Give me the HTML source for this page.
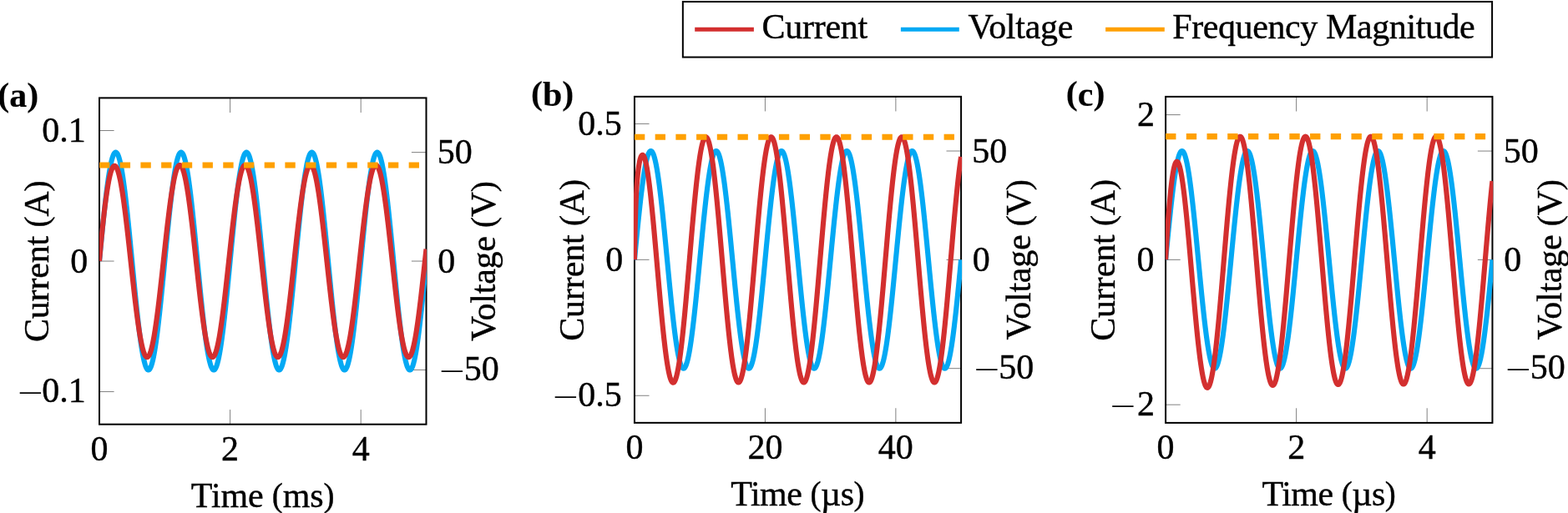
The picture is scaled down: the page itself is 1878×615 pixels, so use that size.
<!DOCTYPE html><html><head><meta charset="utf-8"><style>html,body{margin:0;padding:0;background:#fff;overflow:hidden;}svg{display:block;}text{font-family:"Liberation Serif","Times New Roman",serif;font-size:42px;fill:#000;stroke:#000;stroke-width:0.4px;}</style></head><body>
<svg width="1878" height="615" viewBox="0 0 1878 615">
<rect width="1878" height="615" fill="#fff"/>
<defs>
<clipPath id="clipa"><rect x="119" y="116.4" width="392" height="393.3"/></clipPath>
<clipPath id="clipb"><rect x="758.95" y="114.85" width="393.15" height="393"/></clipPath>
<clipPath id="clipc"><rect x="1395.9" y="114.9" width="392.3" height="393"/></clipPath>
</defs>
<path d="M119 156.53H136.6M119 313.05H136.6M119 469.57H136.6M510.5 182.62H492.9M510.5 313.05H492.9M510.5 443.48H492.9M119 508.7V491.1M119 117.4V135M275.6 508.7V491.1M275.6 117.4V135M432.2 508.7V491.1M432.2 117.4V135" stroke="#000" stroke-width="0.5" fill="none"/>
<rect x="119" y="117.4" width="391.5" height="391.3" fill="none" stroke="#000" stroke-width="2"/>
<g clip-path="url(#clipa)" fill="none" stroke-linejoin="round">
<path d="M119 313.05L119.26 310.32L119.52 307.59L119.78 304.86L120.04 302.14L120.31 299.42L120.57 296.7L120.83 294L121.09 291.3L121.35 288.61L121.61 285.93L121.87 283.27L122.13 280.61L122.39 277.97L122.65 275.35L122.92 272.74L123.18 270.15L123.44 267.58L123.7 265.03L123.96 262.51L124.22 260L124.48 257.51L124.74 255.05L125 252.62L125.26 250.21L125.53 247.83L125.79 245.48L126.05 243.16L126.31 240.87L126.57 238.61L126.83 236.38L127.09 234.19L127.35 232.03L127.61 229.91L127.87 227.82L128.13 225.77L128.4 223.76L128.66 221.79L128.92 219.86L129.18 217.97L129.44 216.12L129.7 214.31L129.96 212.55L130.22 210.83L130.48 209.16L130.75 207.53L131.01 205.94L131.27 204.41L131.53 202.92L131.79 201.48L132.05 200.09L132.31 198.75L132.57 197.46L132.83 196.22L133.09 195.03L133.35 193.89L133.62 192.81L133.88 191.78L134.14 190.8L134.4 189.87L134.66 189L134.92 188.18L135.18 187.42L135.44 186.71L135.7 186.06L135.97 185.47L136.23 184.93L136.49 184.44L136.75 184.02L137.01 183.65L137.27 183.33L137.53 183.07L137.79 182.87L138.05 182.73L138.31 182.65L138.57 182.62L138.84 182.65L139.1 182.73L139.36 182.87L139.62 183.07L139.88 183.33L140.14 183.65L140.4 184.02L140.66 184.44L140.92 184.93L141.19 185.47L141.45 186.06L141.71 186.71L141.97 187.42L142.23 188.18L142.49 189L142.75 189.87L143.01 190.8L143.27 191.78L143.53 192.81L143.8 193.89L144.06 195.03L144.32 196.22L144.58 197.46L144.84 198.75L145.1 200.09L145.36 201.48L145.62 202.92L145.88 204.41L146.14 205.94L146.41 207.53L146.67 209.16L146.93 210.83L147.19 212.55L147.45 214.31L147.71 216.12L147.97 217.97L148.23 219.86L148.49 221.79L148.75 223.76L149.01 225.77L149.28 227.82L149.54 229.91L149.8 232.03L150.06 234.19L150.32 236.38L150.58 238.61L150.84 240.87L151.1 243.16L151.36 245.48L151.62 247.83L151.89 250.21L152.15 252.62L152.41 255.05L152.67 257.51L152.93 260L153.19 262.51L153.45 265.03L153.71 267.58L153.97 270.15L154.24 272.74L154.5 275.35L154.76 277.97L155.02 280.61L155.28 283.27L155.54 285.93L155.8 288.61L156.06 291.3L156.32 294L156.58 296.7L156.84 299.42L157.11 302.14L157.37 304.86L157.63 307.59L157.89 310.32L158.15 313.05L158.41 315.78L158.67 318.51L158.93 321.24L159.19 323.96L159.46 326.68L159.72 329.4L159.98 332.1L160.24 334.8L160.5 337.49L160.76 340.17L161.02 342.83L161.28 345.49L161.54 348.13L161.8 350.75L162.06 353.36L162.33 355.95L162.59 358.52L162.85 361.07L163.11 363.59L163.37 366.1L163.63 368.59L163.89 371.05L164.15 373.48L164.41 375.89L164.68 378.27L164.94 380.62L165.2 382.94L165.46 385.23L165.72 387.49L165.98 389.72L166.24 391.91L166.5 394.07L166.76 396.19L167.02 398.28L167.28 400.33L167.55 402.34L167.81 404.31L168.07 406.24L168.33 408.13L168.59 409.98L168.85 411.79L169.11 413.55L169.37 415.27L169.63 416.94L169.9 418.57L170.16 420.16L170.42 421.69L170.68 423.18L170.94 424.62L171.2 426.01L171.46 427.35L171.72 428.64L171.98 429.88L172.24 431.07L172.5 432.21L172.77 433.29L173.03 434.32L173.29 435.3L173.55 436.23L173.81 437.1L174.07 437.92L174.33 438.68L174.59 439.39L174.85 440.04L175.12 440.63L175.38 441.17L175.64 441.66L175.9 442.08L176.16 442.45L176.42 442.77L176.68 443.03L176.94 443.23L177.2 443.37L177.46 443.45L177.72 443.48L177.99 443.45L178.25 443.37L178.51 443.23L178.77 443.03L179.03 442.77L179.29 442.45L179.55 442.08L179.81 441.66L180.07 441.17L180.34 440.63L180.6 440.04L180.86 439.39L181.12 438.68L181.38 437.92L181.64 437.1L181.9 436.23L182.16 435.3L182.42 434.32L182.68 433.29L182.94 432.21L183.21 431.07L183.47 429.88L183.73 428.64L183.99 427.35L184.25 426.01L184.51 424.62L184.77 423.18L185.03 421.69L185.29 420.16L185.56 418.57L185.82 416.94L186.08 415.27L186.34 413.55L186.6 411.79L186.86 409.98L187.12 408.13L187.38 406.24L187.64 404.31L187.9 402.34L188.17 400.33L188.43 398.28L188.69 396.19L188.95 394.07L189.21 391.91L189.47 389.72L189.73 387.49L189.99 385.23L190.25 382.94L190.51 380.62L190.78 378.27L191.04 375.89L191.3 373.48L191.56 371.05L191.82 368.59L192.08 366.1L192.34 363.59L192.6 361.07L192.86 358.52L193.12 355.95L193.38 353.36L193.65 350.75L193.91 348.13L194.17 345.49L194.43 342.83L194.69 340.17L194.95 337.49L195.21 334.8L195.47 332.1L195.73 329.4L196 326.68L196.26 323.96L196.52 321.24L196.78 318.51L197.04 315.78L197.3 313.05L197.56 310.32L197.82 307.59L198.08 304.86L198.34 302.14L198.61 299.42L198.87 296.7L199.13 294L199.39 291.3L199.65 288.61L199.91 285.93L200.17 283.27L200.43 280.61L200.69 277.97L200.95 275.35L201.22 272.74L201.48 270.15L201.74 267.58L202 265.03L202.26 262.51L202.52 260L202.78 257.51L203.04 255.05L203.3 252.62L203.56 250.21L203.82 247.83L204.09 245.48L204.35 243.16L204.61 240.87L204.87 238.61L205.13 236.38L205.39 234.19L205.65 232.03L205.91 229.91L206.17 227.82L206.44 225.77L206.7 223.76L206.96 221.79L207.22 219.86L207.48 217.97L207.74 216.12L208 214.31L208.26 212.55L208.52 210.83L208.78 209.16L209.05 207.53L209.31 205.94L209.57 204.41L209.83 202.92L210.09 201.48L210.35 200.09L210.61 198.75L210.87 197.46L211.13 196.22L211.39 195.03L211.66 193.89L211.92 192.81L212.18 191.78L212.44 190.8L212.7 189.87L212.96 189L213.22 188.18L213.48 187.42L213.74 186.71L214 186.06L214.26 185.47L214.53 184.93L214.79 184.44L215.05 184.02L215.31 183.65L215.57 183.33L215.83 183.07L216.09 182.87L216.35 182.73L216.61 182.65L216.88 182.62L217.14 182.65L217.4 182.73L217.66 182.87L217.92 183.07L218.18 183.33L218.44 183.65L218.7 184.02L218.96 184.44L219.22 184.93L219.49 185.47L219.75 186.06L220.01 186.71L220.27 187.42L220.53 188.18L220.79 189L221.05 189.87L221.31 190.8L221.57 191.78L221.83 192.81L222.09 193.89L222.36 195.03L222.62 196.22L222.88 197.46L223.14 198.75L223.4 200.09L223.66 201.48L223.92 202.92L224.18 204.41L224.44 205.94L224.7 207.53L224.97 209.16L225.23 210.83L225.49 212.55L225.75 214.31L226.01 216.12L226.27 217.97L226.53 219.86L226.79 221.79L227.05 223.76L227.31 225.77L227.58 227.82L227.84 229.91L228.1 232.03L228.36 234.19L228.62 236.38L228.88 238.61L229.14 240.87L229.4 243.16L229.66 245.48L229.93 247.83L230.19 250.21L230.45 252.62L230.71 255.05L230.97 257.51L231.23 260L231.49 262.51L231.75 265.03L232.01 267.58L232.27 270.15L232.54 272.74L232.8 275.35L233.06 277.97L233.32 280.61L233.58 283.27L233.84 285.93L234.1 288.61L234.36 291.3L234.62 294L234.88 296.7L235.14 299.42L235.41 302.14L235.67 304.86L235.93 307.59L236.19 310.32L236.45 313.05L236.71 315.78L236.97 318.51L237.23 321.24L237.49 323.96L237.75 326.68L238.02 329.4L238.28 332.1L238.54 334.8L238.8 337.49L239.06 340.17L239.32 342.83L239.58 345.49L239.84 348.13L240.1 350.75L240.37 353.36L240.63 355.95L240.89 358.52L241.15 361.07L241.41 363.59L241.67 366.1L241.93 368.59L242.19 371.05L242.45 373.48L242.71 375.89L242.98 378.27L243.24 380.62L243.5 382.94L243.76 385.23L244.02 387.49L244.28 389.72L244.54 391.91L244.8 394.07L245.06 396.19L245.32 398.28L245.58 400.33L245.85 402.34L246.11 404.31L246.37 406.24L246.63 408.13L246.89 409.98L247.15 411.79L247.41 413.55L247.67 415.27L247.93 416.94L248.19 418.57L248.46 420.16L248.72 421.69L248.98 423.18L249.24 424.62L249.5 426.01L249.76 427.35L250.02 428.64L250.28 429.88L250.54 431.07L250.81 432.21L251.07 433.29L251.33 434.32L251.59 435.3L251.85 436.23L252.11 437.1L252.37 437.92L252.63 438.68L252.89 439.39L253.15 440.04L253.41 440.63L253.68 441.17L253.94 441.66L254.2 442.08L254.46 442.45L254.72 442.77L254.98 443.03L255.24 443.23L255.5 443.37L255.76 443.45L256.02 443.48L256.29 443.45L256.55 443.37L256.81 443.23L257.07 443.03L257.33 442.77L257.59 442.45L257.85 442.08L258.11 441.66L258.37 441.17L258.63 440.63L258.9 440.04L259.16 439.39L259.42 438.68L259.68 437.92L259.94 437.1L260.2 436.23L260.46 435.3L260.72 434.32L260.98 433.29L261.25 432.21L261.51 431.07L261.77 429.88L262.03 428.64L262.29 427.35L262.55 426.01L262.81 424.62L263.07 423.18L263.33 421.69L263.59 420.16L263.86 418.57L264.12 416.94L264.38 415.27L264.64 413.55L264.9 411.79L265.16 409.98L265.42 408.13L265.68 406.24L265.94 404.31L266.2 402.34L266.47 400.33L266.73 398.28L266.99 396.19L267.25 394.07L267.51 391.91L267.77 389.72L268.03 387.49L268.29 385.23L268.55 382.94L268.81 380.62L269.07 378.27L269.34 375.89L269.6 373.48L269.86 371.05L270.12 368.59L270.38 366.1L270.64 363.59L270.9 361.07L271.16 358.52L271.42 355.95L271.69 353.36L271.95 350.75L272.21 348.13L272.47 345.49L272.73 342.83L272.99 340.17L273.25 337.49L273.51 334.8L273.77 332.1L274.03 329.4L274.29 326.68L274.56 323.96L274.82 321.24L275.08 318.51L275.34 315.78L275.6 313.05L275.86 310.32L276.12 307.59L276.38 304.86L276.64 302.14L276.9 299.42L277.17 296.7L277.43 294L277.69 291.3L277.95 288.61L278.21 285.93L278.47 283.27L278.73 280.61L278.99 277.97L279.25 275.35L279.51 272.74L279.78 270.15L280.04 267.58L280.3 265.03L280.56 262.51L280.82 260L281.08 257.51L281.34 255.05L281.6 252.62L281.86 250.21L282.12 247.83L282.39 245.48L282.65 243.16L282.91 240.87L283.17 238.61L283.43 236.38L283.69 234.19L283.95 232.03L284.21 229.91L284.47 227.82L284.74 225.77L285 223.76L285.26 221.79L285.52 219.86L285.78 217.97L286.04 216.12L286.3 214.31L286.56 212.55L286.82 210.83L287.08 209.16L287.35 207.53L287.61 205.94L287.87 204.41L288.13 202.92L288.39 201.48L288.65 200.09L288.91 198.75L289.17 197.46L289.43 196.22L289.69 195.03L289.96 193.89L290.22 192.81L290.48 191.78L290.74 190.8L291 189.87L291.26 189L291.52 188.18L291.78 187.42L292.04 186.71L292.3 186.06L292.56 185.47L292.83 184.93L293.09 184.44L293.35 184.02L293.61 183.65L293.87 183.33L294.13 183.07L294.39 182.87L294.65 182.73L294.91 182.65L295.17 182.62L295.44 182.65L295.7 182.73L295.96 182.87L296.22 183.07L296.48 183.33L296.74 183.65L297 184.02L297.26 184.44L297.52 184.93L297.79 185.47L298.05 186.06L298.31 186.71L298.57 187.42L298.83 188.18L299.09 189L299.35 189.87L299.61 190.8L299.87 191.78L300.13 192.81L300.39 193.89L300.66 195.03L300.92 196.22L301.18 197.46L301.44 198.75L301.7 200.09L301.96 201.48L302.22 202.92L302.48 204.41L302.74 205.94L303 207.53L303.27 209.16L303.53 210.83L303.79 212.55L304.05 214.31L304.31 216.12L304.57 217.97L304.83 219.86L305.09 221.79L305.35 223.76L305.62 225.77L305.88 227.82L306.14 229.91L306.4 232.03L306.66 234.19L306.92 236.38L307.18 238.61L307.44 240.87L307.7 243.16L307.96 245.48L308.23 247.83L308.49 250.21L308.75 252.62L309.01 255.05L309.27 257.51L309.53 260L309.79 262.51L310.05 265.03L310.31 267.58L310.57 270.15L310.84 272.74L311.1 275.35L311.36 277.97L311.62 280.61L311.88 283.27L312.14 285.93L312.4 288.61L312.66 291.3L312.92 294L313.18 296.7L313.44 299.42L313.71 302.14L313.97 304.86L314.23 307.59L314.49 310.32L314.75 313.05L315.01 315.78L315.27 318.51L315.53 321.24L315.79 323.96L316.05 326.68L316.32 329.4L316.58 332.1L316.84 334.8L317.1 337.49L317.36 340.17L317.62 342.83L317.88 345.49L318.14 348.13L318.4 350.75L318.67 353.36L318.93 355.95L319.19 358.52L319.45 361.07L319.71 363.59L319.97 366.1L320.23 368.59L320.49 371.05L320.75 373.48L321.01 375.89L321.27 378.27L321.54 380.62L321.8 382.94L322.06 385.23L322.32 387.49L322.58 389.72L322.84 391.91L323.1 394.07L323.36 396.19L323.62 398.28L323.88 400.33L324.15 402.34L324.41 404.31L324.67 406.24L324.93 408.13L325.19 409.98L325.45 411.79L325.71 413.55L325.97 415.27L326.23 416.94L326.5 418.57L326.76 420.16L327.02 421.69L327.28 423.18L327.54 424.62L327.8 426.01L328.06 427.35L328.32 428.64L328.58 429.88L328.84 431.07L329.11 432.21L329.37 433.29L329.63 434.32L329.89 435.3L330.15 436.23L330.41 437.1L330.67 437.92L330.93 438.68L331.19 439.39L331.45 440.04L331.72 440.63L331.98 441.17L332.24 441.66L332.5 442.08L332.76 442.45L333.02 442.77L333.28 443.03L333.54 443.23L333.8 443.37L334.06 443.45L334.32 443.48L334.59 443.45L334.85 443.37L335.11 443.23L335.37 443.03L335.63 442.77L335.89 442.45L336.15 442.08L336.41 441.66L336.67 441.17L336.94 440.63L337.2 440.04L337.46 439.39L337.72 438.68L337.98 437.92L338.24 437.1L338.5 436.23L338.76 435.3L339.02 434.32L339.28 433.29L339.55 432.21L339.81 431.07L340.07 429.88L340.33 428.64L340.59 427.35L340.85 426.01L341.11 424.62L341.37 423.18L341.63 421.69L341.89 420.16L342.15 418.57L342.42 416.94L342.68 415.27L342.94 413.55L343.2 411.79L343.46 409.98L343.72 408.13L343.98 406.24L344.24 404.31L344.5 402.34L344.76 400.33L345.03 398.28L345.29 396.19L345.55 394.07L345.81 391.91L346.07 389.72L346.33 387.49L346.59 385.23L346.85 382.94L347.11 380.62L347.38 378.27L347.64 375.89L347.9 373.48L348.16 371.05L348.42 368.59L348.68 366.1L348.94 363.59L349.2 361.07L349.46 358.52L349.72 355.95L349.99 353.36L350.25 350.75L350.51 348.13L350.77 345.49L351.03 342.83L351.29 340.17L351.55 337.49L351.81 334.8L352.07 332.1L352.33 329.4L352.6 326.68L352.86 323.96L353.12 321.24L353.38 318.51L353.64 315.78L353.9 313.05L354.16 310.32L354.42 307.59L354.68 304.86L354.94 302.14L355.21 299.42L355.47 296.7L355.73 294L355.99 291.3L356.25 288.61L356.51 285.93L356.77 283.27L357.03 280.61L357.29 277.97L357.55 275.35L357.82 272.74L358.08 270.15L358.34 267.58L358.6 265.03L358.86 262.51L359.12 260L359.38 257.51L359.64 255.05L359.9 252.62L360.16 250.21L360.43 247.83L360.69 245.48L360.95 243.16L361.21 240.87L361.47 238.61L361.73 236.38L361.99 234.19L362.25 232.03L362.51 229.91L362.77 227.82L363.03 225.77L363.3 223.76L363.56 221.79L363.82 219.86L364.08 217.97L364.34 216.12L364.6 214.31L364.86 212.55L365.12 210.83L365.38 209.16L365.64 207.53L365.91 205.94L366.17 204.41L366.43 202.92L366.69 201.48L366.95 200.09L367.21 198.75L367.47 197.46L367.73 196.22L367.99 195.03L368.25 193.89L368.52 192.81L368.78 191.78L369.04 190.8L369.3 189.87L369.56 189L369.82 188.18L370.08 187.42L370.34 186.71L370.6 186.06L370.87 185.47L371.13 184.93L371.39 184.44L371.65 184.02L371.91 183.65L372.17 183.33L372.43 183.07L372.69 182.87L372.95 182.73L373.21 182.65L373.48 182.62L373.74 182.65L374 182.73L374.26 182.87L374.52 183.07L374.78 183.33L375.04 183.65L375.3 184.02L375.56 184.44L375.82 184.93L376.09 185.47L376.35 186.06L376.61 186.71L376.87 187.42L377.13 188.18L377.39 189L377.65 189.87L377.91 190.8L378.17 191.78L378.43 192.81L378.69 193.89L378.96 195.03L379.22 196.22L379.48 197.46L379.74 198.75L380 200.09L380.26 201.48L380.52 202.92L380.78 204.41L381.04 205.94L381.31 207.53L381.57 209.16L381.83 210.83L382.09 212.55L382.35 214.31L382.61 216.12L382.87 217.97L383.13 219.86L383.39 221.79L383.65 223.76L383.92 225.77L384.18 227.82L384.44 229.91L384.7 232.03L384.96 234.19L385.22 236.38L385.48 238.61L385.74 240.87L386 243.16L386.26 245.48L386.53 247.83L386.79 250.21L387.05 252.62L387.31 255.05L387.57 257.51L387.83 260L388.09 262.51L388.35 265.03L388.61 267.58L388.87 270.15L389.13 272.74L389.4 275.35L389.66 277.97L389.92 280.61L390.18 283.27L390.44 285.93L390.7 288.61L390.96 291.3L391.22 294L391.48 296.7L391.75 299.42L392.01 302.14L392.27 304.86L392.53 307.59L392.79 310.32L393.05 313.05L393.31 315.78L393.57 318.51L393.83 321.24L394.09 323.96L394.36 326.68L394.62 329.4L394.88 332.1L395.14 334.8L395.4 337.49L395.66 340.17L395.92 342.83L396.18 345.49L396.44 348.13L396.7 350.75L396.97 353.36L397.23 355.95L397.49 358.52L397.75 361.07L398.01 363.59L398.27 366.1L398.53 368.59L398.79 371.05L399.05 373.48L399.31 375.89L399.57 378.27L399.84 380.62L400.1 382.94L400.36 385.23L400.62 387.49L400.88 389.72L401.14 391.91L401.4 394.07L401.66 396.19L401.92 398.28L402.19 400.33L402.45 402.34L402.71 404.31L402.97 406.24L403.23 408.13L403.49 409.98L403.75 411.79L404.01 413.55L404.27 415.27L404.53 416.94L404.8 418.57L405.06 420.16L405.32 421.69L405.58 423.18L405.84 424.62L406.1 426.01L406.36 427.35L406.62 428.64L406.88 429.88L407.14 431.07L407.41 432.21L407.67 433.29L407.93 434.32L408.19 435.3L408.45 436.23L408.71 437.1L408.97 437.92L409.23 438.68L409.49 439.39L409.75 440.04L410.01 440.63L410.28 441.17L410.54 441.66L410.8 442.08L411.06 442.45L411.32 442.77L411.58 443.03L411.84 443.23L412.1 443.37L412.36 443.45L412.62 443.48L412.89 443.45L413.15 443.37L413.41 443.23L413.67 443.03L413.93 442.77L414.19 442.45L414.45 442.08L414.71 441.66L414.97 441.17L415.24 440.63L415.5 440.04L415.76 439.39L416.02 438.68L416.28 437.92L416.54 437.1L416.8 436.23L417.06 435.3L417.32 434.32L417.58 433.29L417.85 432.21L418.11 431.07L418.37 429.88L418.63 428.64L418.89 427.35L419.15 426.01L419.41 424.62L419.67 423.18L419.93 421.69L420.19 420.16L420.45 418.57L420.72 416.94L420.98 415.27L421.24 413.55L421.5 411.79L421.76 409.98L422.02 408.13L422.28 406.24L422.54 404.31L422.8 402.34L423.06 400.33L423.33 398.28L423.59 396.19L423.85 394.07L424.11 391.91L424.37 389.72L424.63 387.49L424.89 385.23L425.15 382.94L425.41 380.62L425.68 378.27L425.94 375.89L426.2 373.48L426.46 371.05L426.72 368.59L426.98 366.1L427.24 363.59L427.5 361.07L427.76 358.52L428.02 355.95L428.29 353.36L428.55 350.75L428.81 348.13L429.07 345.49L429.33 342.83L429.59 340.17L429.85 337.49L430.11 334.8L430.37 332.1L430.63 329.4L430.89 326.68L431.16 323.96L431.42 321.24L431.68 318.51L431.94 315.78L432.2 313.05L432.46 310.32L432.72 307.59L432.98 304.86L433.24 302.14L433.5 299.42L433.77 296.7L434.03 294L434.29 291.3L434.55 288.61L434.81 285.93L435.07 283.27L435.33 280.61L435.59 277.97L435.85 275.35L436.11 272.74L436.38 270.15L436.64 267.58L436.9 265.03L437.16 262.51L437.42 260L437.68 257.51L437.94 255.05L438.2 252.62L438.46 250.21L438.73 247.83L438.99 245.48L439.25 243.16L439.51 240.87L439.77 238.61L440.03 236.38L440.29 234.19L440.55 232.03L440.81 229.91L441.07 227.82L441.34 225.77L441.6 223.76L441.86 221.79L442.12 219.86L442.38 217.97L442.64 216.12L442.9 214.31L443.16 212.55L443.42 210.83L443.68 209.16L443.94 207.53L444.21 205.94L444.47 204.41L444.73 202.92L444.99 201.48L445.25 200.09L445.51 198.75L445.77 197.46L446.03 196.22L446.29 195.03L446.56 193.89L446.82 192.81L447.08 191.78L447.34 190.8L447.6 189.87L447.86 189L448.12 188.18L448.38 187.42L448.64 186.71L448.9 186.06L449.17 185.47L449.43 184.93L449.69 184.44L449.95 184.02L450.21 183.65L450.47 183.33L450.73 183.07L450.99 182.87L451.25 182.73L451.51 182.65L451.77 182.62L452.04 182.65L452.3 182.73L452.56 182.87L452.82 183.07L453.08 183.33L453.34 183.65L453.6 184.02L453.86 184.44L454.12 184.93L454.38 185.47L454.65 186.06L454.91 186.71L455.17 187.42L455.43 188.18L455.69 189L455.95 189.87L456.21 190.8L456.47 191.78L456.73 192.81L457 193.89L457.26 195.03L457.52 196.22L457.78 197.46L458.04 198.75L458.3 200.09L458.56 201.48L458.82 202.92L459.08 204.41L459.34 205.94L459.61 207.53L459.87 209.16L460.13 210.83L460.39 212.55L460.65 214.31L460.91 216.12L461.17 217.97L461.43 219.86L461.69 221.79L461.95 223.76L462.22 225.77L462.48 227.82L462.74 229.91L463 232.03L463.26 234.19L463.52 236.38L463.78 238.61L464.04 240.87L464.3 243.16L464.56 245.48L464.82 247.83L465.09 250.21L465.35 252.62L465.61 255.05L465.87 257.51L466.13 260L466.39 262.51L466.65 265.03L466.91 267.58L467.17 270.15L467.44 272.74L467.7 275.35L467.96 277.97L468.22 280.61L468.48 283.27L468.74 285.93L469 288.61L469.26 291.3L469.52 294L469.78 296.7L470.05 299.42L470.31 302.14L470.57 304.86L470.83 307.59L471.09 310.32L471.35 313.05L471.61 315.78L471.87 318.51L472.13 321.24L472.39 323.96L472.65 326.68L472.92 329.4L473.18 332.1L473.44 334.8L473.7 337.49L473.96 340.17L474.22 342.83L474.48 345.49L474.74 348.13L475 350.75L475.27 353.36L475.53 355.95L475.79 358.52L476.05 361.07L476.31 363.59L476.57 366.1L476.83 368.59L477.09 371.05L477.35 373.48L477.61 375.89L477.88 378.27L478.14 380.62L478.4 382.94L478.66 385.23L478.92 387.49L479.18 389.72L479.44 391.91L479.7 394.07L479.96 396.19L480.22 398.28L480.49 400.33L480.75 402.34L481.01 404.31L481.27 406.24L481.53 408.13L481.79 409.98L482.05 411.79L482.31 413.55L482.57 415.27L482.83 416.94L483.1 418.57L483.36 420.16L483.62 421.69L483.88 423.18L484.14 424.62L484.4 426.01L484.66 427.35L484.92 428.64L485.18 429.88L485.44 431.07L485.7 432.21L485.97 433.29L486.23 434.32L486.49 435.3L486.75 436.23L487.01 437.1L487.27 437.92L487.53 438.68L487.79 439.39L488.05 440.04L488.31 440.63L488.58 441.17L488.84 441.66L489.1 442.08L489.36 442.45L489.62 442.77L489.88 443.03L490.14 443.23L490.4 443.37L490.66 443.45L490.93 443.48L491.19 443.45L491.45 443.37L491.71 443.23L491.97 443.03L492.23 442.77L492.49 442.45L492.75 442.08L493.01 441.66L493.27 441.17L493.53 440.63L493.8 440.04L494.06 439.39L494.32 438.68L494.58 437.92L494.84 437.1L495.1 436.23L495.36 435.3L495.62 434.32L495.88 433.29L496.15 432.21L496.41 431.07L496.67 429.88L496.93 428.64L497.19 427.35L497.45 426.01L497.71 424.62L497.97 423.18L498.23 421.69L498.49 420.16L498.76 418.57L499.02 416.94L499.28 415.27L499.54 413.55L499.8 411.79L500.06 409.98L500.32 408.13L500.58 406.24L500.84 404.31L501.1 402.34L501.37 400.33L501.63 398.28L501.89 396.19L502.15 394.07L502.41 391.91L502.67 389.72L502.93 387.49L503.19 385.23L503.45 382.94L503.71 380.62L503.98 378.27L504.24 375.89L504.5 373.48L504.76 371.05L505.02 368.59L505.28 366.1L505.54 363.59L505.8 361.07L506.06 358.52L506.32 355.95L506.58 353.36L506.85 350.75L507.11 348.13L507.37 345.49L507.63 342.83L507.89 340.17L508.15 337.49L508.41 334.8L508.67 332.1L508.93 329.4L509.19 326.68L509.46 323.96L509.72 321.24L509.98 318.51L510.24 315.78L510.5 313.05" stroke="#03A9F4" stroke-width="6.15"/>
<path d="M119 313.05L119.26 310.07L119.52 307.13L119.78 304.22L120.04 301.34L120.31 298.49L120.57 295.67L120.83 292.88L121.09 290.13L121.35 287.41L121.61 284.72L121.87 282.07L122.13 279.45L122.39 276.86L122.65 274.3L122.92 271.79L123.18 269.3L123.44 266.85L123.7 264.44L123.96 262.06L124.22 259.72L124.48 257.42L124.74 255.15L125 252.92L125.26 250.73L125.53 248.58L125.79 246.47L126.05 244.4L126.31 242.37L126.57 240.38L126.83 238.43L127.09 236.52L127.35 234.66L127.61 232.83L127.87 231.05L128.13 229.32L128.4 227.63L128.66 225.98L128.92 224.38L129.18 222.82L129.44 221.31L129.7 219.84L129.96 218.42L130.22 217.05L130.48 215.73L130.75 214.45L131.01 213.22L131.27 212.04L131.53 210.91L131.79 209.83L132.05 208.79L132.31 207.81L132.57 206.87L132.83 205.99L133.09 205.16L133.35 204.38L133.62 203.64L133.88 202.96L134.14 202.33L134.4 201.76L134.66 201.23L134.92 200.75L135.18 200.33L135.44 199.96L135.7 199.64L135.97 199.37L136.23 199.16L136.49 198.99L136.75 198.88L137.01 198.82L137.27 198.81L137.53 198.86L137.79 198.95L138.05 199.1L138.31 199.3L138.57 199.55L138.84 199.85L139.1 200.2L139.36 200.6L139.62 201.06L139.88 201.56L140.14 202.12L140.4 202.72L140.66 203.37L140.92 204.07L141.19 204.82L141.45 205.62L141.71 206.47L141.97 207.37L142.23 208.31L142.49 209.3L142.75 210.33L143.01 211.41L143.27 212.54L143.53 213.71L143.8 214.92L144.06 216.18L144.32 217.48L144.58 218.83L144.84 220.21L145.1 221.64L145.36 223.11L145.62 224.61L145.88 226.16L146.14 227.75L146.41 229.37L146.67 231.03L146.93 232.73L147.19 234.46L147.45 236.23L147.71 238.03L147.97 239.86L148.23 241.73L148.49 243.63L148.75 245.55L149.01 247.51L149.28 249.5L149.54 251.52L149.8 253.56L150.06 255.63L150.32 257.73L150.58 259.84L150.84 261.99L151.1 264.15L151.36 266.34L151.62 268.55L151.89 270.78L152.15 273.02L152.41 275.29L152.67 277.57L152.93 279.86L153.19 282.17L153.45 284.5L153.71 286.84L153.97 289.19L154.24 291.55L154.5 293.91L154.76 296.29L155.02 298.68L155.28 301.07L155.54 303.47L155.8 305.87L156.06 308.27L156.32 310.68L156.58 313.09L156.84 315.49L157.11 317.9L157.37 320.31L157.63 322.71L157.89 325.1L158.15 327.5L158.41 329.88L158.67 332.26L158.93 334.63L159.19 336.99L159.46 339.34L159.72 341.68L159.98 344.01L160.24 346.32L160.5 348.62L160.76 350.9L161.02 353.17L161.28 355.42L161.54 357.65L161.8 359.86L162.06 362.05L162.33 364.22L162.59 366.36L162.85 368.49L163.11 370.58L163.37 372.66L163.63 374.7L163.89 376.72L164.15 378.72L164.41 380.68L164.68 382.61L164.94 384.52L165.2 386.39L165.46 388.23L165.72 390.04L165.98 391.81L166.24 393.55L166.5 395.25L166.76 396.92L167.02 398.55L167.28 400.14L167.55 401.7L167.81 403.21L168.07 404.69L168.33 406.13L168.59 407.52L168.85 408.88L169.11 410.19L169.37 411.46L169.63 412.68L169.9 413.87L170.16 415L170.42 416.1L170.68 417.15L170.94 418.15L171.2 419.11L171.46 420.02L171.72 420.88L171.98 421.7L172.24 422.46L172.5 423.18L172.77 423.86L173.03 424.48L173.29 425.06L173.55 425.58L173.81 426.06L174.07 426.48L174.33 426.86L174.59 427.19L174.85 427.46L175.12 427.69L175.38 427.87L175.64 427.99L175.9 428.07L176.16 428.09L176.42 428.07L176.68 427.99L176.94 427.87L177.2 427.69L177.46 427.46L177.72 427.19L177.99 426.86L178.25 426.48L178.51 426.06L178.77 425.58L179.03 425.05L179.29 424.48L179.55 423.86L179.81 423.18L180.07 422.46L180.34 421.69L180.6 420.88L180.86 420.01L181.12 419.1L181.38 418.15L181.64 417.14L181.9 416.1L182.16 415L182.42 413.86L182.68 412.68L182.94 411.45L183.21 410.18L183.47 408.87L183.73 407.52L183.99 406.12L184.25 404.68L184.51 403.21L184.77 401.69L185.03 400.14L185.29 398.54L185.56 396.91L185.82 395.24L186.08 393.54L186.34 391.8L186.6 390.03L186.86 388.22L187.12 386.38L187.38 384.51L187.64 382.6L187.9 380.67L188.17 378.71L188.43 376.71L188.69 374.69L188.95 372.65L189.21 370.57L189.47 368.47L189.73 366.35L189.99 364.2L190.25 362.03L190.51 359.84L190.78 357.63L191.04 355.4L191.3 353.15L191.56 350.88L191.82 348.6L192.08 346.3L192.34 343.99L192.6 341.66L192.86 339.32L193.12 336.97L193.38 334.61L193.65 332.24L193.91 329.86L194.17 327.47L194.43 325.08L194.69 322.68L194.95 320.27L195.21 317.87L195.47 315.46L195.73 313.05L196 310.64L196.26 308.23L196.52 305.83L196.78 303.42L197.04 301.02L197.3 298.63L197.56 296.24L197.82 293.86L198.08 291.49L198.34 289.13L198.61 286.78L198.87 284.44L199.13 282.11L199.39 279.8L199.65 277.5L199.91 275.22L200.17 272.95L200.43 270.7L200.69 268.47L200.95 266.26L201.22 264.07L201.48 261.9L201.74 259.75L202 257.63L202.26 255.53L202.52 253.46L202.78 251.41L203.04 249.39L203.3 247.39L203.56 245.43L203.82 243.5L204.09 241.59L204.35 239.72L204.61 237.88L204.87 236.07L205.13 234.3L205.39 232.56L205.65 230.86L205.91 229.19L206.17 227.56L206.44 225.96L206.7 224.41L206.96 222.89L207.22 221.42L207.48 219.98L207.74 218.58L208 217.23L208.26 215.92L208.52 214.65L208.78 213.42L209.05 212.24L209.31 211.1L209.57 210.01L209.83 208.96L210.09 207.95L210.35 207L210.61 206.09L210.87 205.22L211.13 204.41L211.39 203.64L211.66 202.92L211.92 202.25L212.18 201.62L212.44 201.05L212.7 200.52L212.96 200.05L213.22 199.62L213.48 199.24L213.74 198.91L214 198.64L214.26 198.41L214.53 198.23L214.79 198.11L215.05 198.03L215.31 198.01L215.57 198.03L215.83 198.11L216.09 198.23L216.35 198.41L216.61 198.64L216.88 198.91L217.14 199.24L217.4 199.62L217.66 200.05L217.92 200.52L218.18 201.05L218.44 201.62L218.7 202.25L218.96 202.92L219.22 203.64L219.49 204.41L219.75 205.22L220.01 206.09L220.27 207L220.53 207.95L220.79 208.96L221.05 210.01L221.31 211.1L221.57 212.24L221.83 213.42L222.09 214.65L222.36 215.92L222.62 217.23L222.88 218.58L223.14 219.98L223.4 221.42L223.66 222.89L223.92 224.41L224.18 225.96L224.44 227.56L224.7 229.19L224.97 230.86L225.23 232.56L225.49 234.3L225.75 236.07L226.01 237.88L226.27 239.72L226.53 241.59L226.79 243.5L227.05 245.43L227.31 247.39L227.58 249.39L227.84 251.41L228.1 253.46L228.36 255.53L228.62 257.63L228.88 259.75L229.14 261.9L229.4 264.07L229.66 266.26L229.93 268.47L230.19 270.7L230.45 272.95L230.71 275.22L230.97 277.5L231.23 279.8L231.49 282.11L231.75 284.44L232.01 286.78L232.27 289.13L232.54 291.49L232.8 293.86L233.06 296.24L233.32 298.63L233.58 301.02L233.84 303.42L234.1 305.83L234.36 308.23L234.62 310.64L234.88 313.05L235.14 315.46L235.41 317.87L235.67 320.27L235.93 322.68L236.19 325.08L236.45 327.47L236.71 329.86L236.97 332.24L237.23 334.61L237.49 336.97L237.75 339.32L238.02 341.66L238.28 343.99L238.54 346.3L238.8 348.6L239.06 350.88L239.32 353.15L239.58 355.4L239.84 357.63L240.1 359.84L240.37 362.03L240.63 364.2L240.89 366.35L241.15 368.47L241.41 370.57L241.67 372.64L241.93 374.69L242.19 376.71L242.45 378.71L242.71 380.67L242.98 382.6L243.24 384.51L243.5 386.38L243.76 388.22L244.02 390.03L244.28 391.8L244.54 393.54L244.8 395.24L245.06 396.91L245.32 398.54L245.58 400.14L245.85 401.69L246.11 403.21L246.37 404.68L246.63 406.12L246.89 407.52L247.15 408.87L247.41 410.18L247.67 411.45L247.93 412.68L248.19 413.86L248.46 415L248.72 416.09L248.98 417.14L249.24 418.15L249.5 419.1L249.76 420.01L250.02 420.88L250.28 421.69L250.54 422.46L250.81 423.18L251.07 423.85L251.33 424.48L251.59 425.05L251.85 425.58L252.11 426.05L252.37 426.48L252.63 426.86L252.89 427.19L253.15 427.46L253.41 427.69L253.68 427.87L253.94 427.99L254.2 428.07L254.46 428.09L254.72 428.07L254.98 427.99L255.24 427.87L255.5 427.69L255.76 427.46L256.02 427.19L256.29 426.86L256.55 426.48L256.81 426.05L257.07 425.58L257.33 425.05L257.59 424.48L257.85 423.85L258.11 423.18L258.37 422.46L258.63 421.69L258.9 420.88L259.16 420.01L259.42 419.1L259.68 418.15L259.94 417.14L260.2 416.09L260.46 415L260.72 413.86L260.98 412.68L261.25 411.45L261.51 410.18L261.77 408.87L262.03 407.52L262.29 406.12L262.55 404.68L262.81 403.21L263.07 401.69L263.33 400.14L263.59 398.54L263.86 396.91L264.12 395.24L264.38 393.54L264.64 391.8L264.9 390.03L265.16 388.22L265.42 386.38L265.68 384.51L265.94 382.6L266.2 380.67L266.47 378.71L266.73 376.71L266.99 374.69L267.25 372.64L267.51 370.57L267.77 368.47L268.03 366.35L268.29 364.2L268.55 362.03L268.81 359.84L269.07 357.63L269.34 355.4L269.6 353.15L269.86 350.88L270.12 348.6L270.38 346.3L270.64 343.99L270.9 341.66L271.16 339.32L271.42 336.97L271.69 334.61L271.95 332.24L272.21 329.86L272.47 327.47L272.73 325.08L272.99 322.68L273.25 320.27L273.51 317.87L273.77 315.46L274.03 313.05L274.29 310.64L274.56 308.23L274.82 305.83L275.08 303.42L275.34 301.02L275.6 298.63L275.86 296.24L276.12 293.86L276.38 291.49L276.64 289.13L276.9 286.78L277.17 284.44L277.43 282.11L277.69 279.8L277.95 277.5L278.21 275.22L278.47 272.95L278.73 270.7L278.99 268.47L279.25 266.26L279.51 264.07L279.78 261.9L280.04 259.75L280.3 257.63L280.56 255.53L280.82 253.46L281.08 251.41L281.34 249.39L281.6 247.39L281.86 245.43L282.12 243.5L282.39 241.59L282.65 239.72L282.91 237.88L283.17 236.07L283.43 234.3L283.69 232.56L283.95 230.86L284.21 229.19L284.47 227.56L284.74 225.96L285 224.41L285.26 222.89L285.52 221.42L285.78 219.98L286.04 218.58L286.3 217.23L286.56 215.92L286.82 214.65L287.08 213.42L287.35 212.24L287.61 211.1L287.87 210.01L288.13 208.96L288.39 207.95L288.65 207L288.91 206.09L289.17 205.22L289.43 204.41L289.69 203.64L289.96 202.92L290.22 202.25L290.48 201.62L290.74 201.05L291 200.52L291.26 200.05L291.52 199.62L291.78 199.24L292.04 198.91L292.3 198.64L292.56 198.41L292.83 198.23L293.09 198.11L293.35 198.03L293.61 198.01L293.87 198.03L294.13 198.11L294.39 198.23L294.65 198.41L294.91 198.64L295.17 198.91L295.44 199.24L295.7 199.62L295.96 200.05L296.22 200.52L296.48 201.05L296.74 201.62L297 202.25L297.26 202.92L297.52 203.64L297.79 204.41L298.05 205.22L298.31 206.09L298.57 207L298.83 207.95L299.09 208.96L299.35 210.01L299.61 211.1L299.87 212.24L300.13 213.42L300.39 214.65L300.66 215.92L300.92 217.23L301.18 218.58L301.44 219.98L301.7 221.42L301.96 222.89L302.22 224.41L302.48 225.96L302.74 227.56L303 229.19L303.27 230.86L303.53 232.56L303.79 234.3L304.05 236.07L304.31 237.88L304.57 239.72L304.83 241.59L305.09 243.5L305.35 245.43L305.62 247.39L305.88 249.39L306.14 251.41L306.4 253.46L306.66 255.53L306.92 257.63L307.18 259.75L307.44 261.9L307.7 264.07L307.96 266.26L308.23 268.47L308.49 270.7L308.75 272.95L309.01 275.22L309.27 277.5L309.53 279.8L309.79 282.11L310.05 284.44L310.31 286.78L310.57 289.13L310.84 291.49L311.1 293.86L311.36 296.24L311.62 298.63L311.88 301.02L312.14 303.42L312.4 305.83L312.66 308.23L312.92 310.64L313.18 313.05L313.44 315.46L313.71 317.87L313.97 320.27L314.23 322.68L314.49 325.08L314.75 327.47L315.01 329.86L315.27 332.24L315.53 334.61L315.79 336.97L316.05 339.32L316.32 341.66L316.58 343.99L316.84 346.3L317.1 348.6L317.36 350.88L317.62 353.15L317.88 355.4L318.14 357.63L318.4 359.84L318.67 362.03L318.93 364.2L319.19 366.35L319.45 368.47L319.71 370.57L319.97 372.64L320.23 374.69L320.49 376.71L320.75 378.71L321.01 380.67L321.27 382.6L321.54 384.51L321.8 386.38L322.06 388.22L322.32 390.03L322.58 391.8L322.84 393.54L323.1 395.24L323.36 396.91L323.62 398.54L323.88 400.14L324.15 401.69L324.41 403.21L324.67 404.68L324.93 406.12L325.19 407.52L325.45 408.87L325.71 410.18L325.97 411.45L326.23 412.68L326.5 413.86L326.76 415L327.02 416.09L327.28 417.14L327.54 418.15L327.8 419.1L328.06 420.01L328.32 420.88L328.58 421.69L328.84 422.46L329.11 423.18L329.37 423.85L329.63 424.48L329.89 425.05L330.15 425.58L330.41 426.05L330.67 426.48L330.93 426.86L331.19 427.19L331.45 427.46L331.72 427.69L331.98 427.87L332.24 427.99L332.5 428.07L332.76 428.09L333.02 428.07L333.28 427.99L333.54 427.87L333.8 427.69L334.06 427.46L334.32 427.19L334.59 426.86L334.85 426.48L335.11 426.05L335.37 425.58L335.63 425.05L335.89 424.48L336.15 423.85L336.41 423.18L336.67 422.46L336.94 421.69L337.2 420.88L337.46 420.01L337.72 419.1L337.98 418.15L338.24 417.14L338.5 416.09L338.76 415L339.02 413.86L339.28 412.68L339.55 411.45L339.81 410.18L340.07 408.87L340.33 407.52L340.59 406.12L340.85 404.68L341.11 403.21L341.37 401.69L341.63 400.14L341.89 398.54L342.15 396.91L342.42 395.24L342.68 393.54L342.94 391.8L343.2 390.03L343.46 388.22L343.72 386.38L343.98 384.51L344.24 382.6L344.5 380.67L344.76 378.71L345.03 376.71L345.29 374.69L345.55 372.64L345.81 370.57L346.07 368.47L346.33 366.35L346.59 364.2L346.85 362.03L347.11 359.84L347.38 357.63L347.64 355.4L347.9 353.15L348.16 350.88L348.42 348.6L348.68 346.3L348.94 343.99L349.2 341.66L349.46 339.32L349.72 336.97L349.99 334.61L350.25 332.24L350.51 329.86L350.77 327.47L351.03 325.08L351.29 322.68L351.55 320.27L351.81 317.87L352.07 315.46L352.33 313.05L352.6 310.64L352.86 308.23L353.12 305.83L353.38 303.42L353.64 301.02L353.9 298.63L354.16 296.24L354.42 293.86L354.68 291.49L354.94 289.13L355.21 286.78L355.47 284.44L355.73 282.11L355.99 279.8L356.25 277.5L356.51 275.22L356.77 272.95L357.03 270.7L357.29 268.47L357.55 266.26L357.82 264.07L358.08 261.9L358.34 259.75L358.6 257.63L358.86 255.53L359.12 253.46L359.38 251.41L359.64 249.39L359.9 247.39L360.16 245.43L360.43 243.5L360.69 241.59L360.95 239.72L361.21 237.88L361.47 236.07L361.73 234.3L361.99 232.56L362.25 230.86L362.51 229.19L362.77 227.56L363.03 225.96L363.3 224.41L363.56 222.89L363.82 221.42L364.08 219.98L364.34 218.58L364.6 217.23L364.86 215.92L365.12 214.65L365.38 213.42L365.64 212.24L365.91 211.1L366.17 210.01L366.43 208.96L366.69 207.95L366.95 207L367.21 206.09L367.47 205.22L367.73 204.41L367.99 203.64L368.25 202.92L368.52 202.25L368.78 201.62L369.04 201.05L369.3 200.52L369.56 200.05L369.82 199.62L370.08 199.24L370.34 198.91L370.6 198.64L370.87 198.41L371.13 198.23L371.39 198.11L371.65 198.03L371.91 198.01L372.17 198.03L372.43 198.11L372.69 198.23L372.95 198.41L373.21 198.64L373.48 198.91L373.74 199.24L374 199.62L374.26 200.05L374.52 200.52L374.78 201.05L375.04 201.62L375.3 202.25L375.56 202.92L375.82 203.64L376.09 204.41L376.35 205.22L376.61 206.09L376.87 207L377.13 207.95L377.39 208.96L377.65 210.01L377.91 211.1L378.17 212.24L378.43 213.42L378.69 214.65L378.96 215.92L379.22 217.23L379.48 218.58L379.74 219.98L380 221.42L380.26 222.89L380.52 224.41L380.78 225.96L381.04 227.56L381.31 229.19L381.57 230.86L381.83 232.56L382.09 234.3L382.35 236.07L382.61 237.88L382.87 239.72L383.13 241.59L383.39 243.5L383.65 245.43L383.92 247.39L384.18 249.39L384.44 251.41L384.7 253.46L384.96 255.53L385.22 257.63L385.48 259.75L385.74 261.9L386 264.07L386.26 266.26L386.53 268.47L386.79 270.7L387.05 272.95L387.31 275.22L387.57 277.5L387.83 279.8L388.09 282.11L388.35 284.44L388.61 286.78L388.87 289.13L389.13 291.49L389.4 293.86L389.66 296.24L389.92 298.63L390.18 301.02L390.44 303.42L390.7 305.83L390.96 308.23L391.22 310.64L391.48 313.05L391.75 315.46L392.01 317.87L392.27 320.27L392.53 322.68L392.79 325.08L393.05 327.47L393.31 329.86L393.57 332.24L393.83 334.61L394.09 336.97L394.36 339.32L394.62 341.66L394.88 343.99L395.14 346.3L395.4 348.6L395.66 350.88L395.92 353.15L396.18 355.4L396.44 357.63L396.7 359.84L396.97 362.03L397.23 364.2L397.49 366.35L397.75 368.47L398.01 370.57L398.27 372.64L398.53 374.69L398.79 376.71L399.05 378.71L399.31 380.67L399.57 382.6L399.84 384.51L400.1 386.38L400.36 388.22L400.62 390.03L400.88 391.8L401.14 393.54L401.4 395.24L401.66 396.91L401.92 398.54L402.19 400.14L402.45 401.69L402.71 403.21L402.97 404.68L403.23 406.12L403.49 407.52L403.75 408.87L404.01 410.18L404.27 411.45L404.53 412.68L404.8 413.86L405.06 415L405.32 416.09L405.58 417.14L405.84 418.15L406.1 419.1L406.36 420.01L406.62 420.88L406.88 421.69L407.14 422.46L407.41 423.18L407.67 423.85L407.93 424.48L408.19 425.05L408.45 425.58L408.71 426.05L408.97 426.48L409.23 426.86L409.49 427.19L409.75 427.46L410.01 427.69L410.28 427.87L410.54 427.99L410.8 428.07L411.06 428.09L411.32 428.07L411.58 427.99L411.84 427.87L412.1 427.69L412.36 427.46L412.62 427.19L412.89 426.86L413.15 426.48L413.41 426.05L413.67 425.58L413.93 425.05L414.19 424.48L414.45 423.85L414.71 423.18L414.97 422.46L415.24 421.69L415.5 420.88L415.76 420.01L416.02 419.1L416.28 418.15L416.54 417.14L416.8 416.09L417.06 415L417.32 413.86L417.58 412.68L417.85 411.45L418.11 410.18L418.37 408.87L418.63 407.52L418.89 406.12L419.15 404.68L419.41 403.21L419.67 401.69L419.93 400.14L420.19 398.54L420.45 396.91L420.72 395.24L420.98 393.54L421.24 391.8L421.5 390.03L421.76 388.22L422.02 386.38L422.28 384.51L422.54 382.6L422.8 380.67L423.06 378.71L423.33 376.71L423.59 374.69L423.85 372.64L424.11 370.57L424.37 368.47L424.63 366.35L424.89 364.2L425.15 362.03L425.41 359.84L425.68 357.63L425.94 355.4L426.2 353.15L426.46 350.88L426.72 348.6L426.98 346.3L427.24 343.99L427.5 341.66L427.76 339.32L428.02 336.97L428.29 334.61L428.55 332.24L428.81 329.86L429.07 327.47L429.33 325.08L429.59 322.68L429.85 320.27L430.11 317.87L430.37 315.46L430.63 313.05L430.89 310.64L431.16 308.23L431.42 305.83L431.68 303.42L431.94 301.02L432.2 298.63L432.46 296.24L432.72 293.86L432.98 291.49L433.24 289.13L433.5 286.78L433.77 284.44L434.03 282.11L434.29 279.8L434.55 277.5L434.81 275.22L435.07 272.95L435.33 270.7L435.59 268.47L435.85 266.26L436.11 264.07L436.38 261.9L436.64 259.75L436.9 257.63L437.16 255.53L437.42 253.46L437.68 251.41L437.94 249.39L438.2 247.39L438.46 245.43L438.73 243.5L438.99 241.59L439.25 239.72L439.51 237.88L439.77 236.07L440.03 234.3L440.29 232.56L440.55 230.86L440.81 229.19L441.07 227.56L441.34 225.96L441.6 224.41L441.86 222.89L442.12 221.42L442.38 219.98L442.64 218.58L442.9 217.23L443.16 215.92L443.42 214.65L443.68 213.42L443.94 212.24L444.21 211.1L444.47 210.01L444.73 208.96L444.99 207.95L445.25 207L445.51 206.09L445.77 205.22L446.03 204.41L446.29 203.64L446.56 202.92L446.82 202.25L447.08 201.62L447.34 201.05L447.6 200.52L447.86 200.05L448.12 199.62L448.38 199.24L448.64 198.91L448.9 198.64L449.17 198.41L449.43 198.23L449.69 198.11L449.95 198.03L450.21 198.01L450.47 198.03L450.73 198.11L450.99 198.23L451.25 198.41L451.51 198.64L451.77 198.91L452.04 199.24L452.3 199.62L452.56 200.05L452.82 200.52L453.08 201.05L453.34 201.62L453.6 202.25L453.86 202.92L454.12 203.64L454.38 204.41L454.65 205.22L454.91 206.09L455.17 207L455.43 207.95L455.69 208.96L455.95 210.01L456.21 211.1L456.47 212.24L456.73 213.42L457 214.65L457.26 215.92L457.52 217.23L457.78 218.58L458.04 219.98L458.3 221.42L458.56 222.89L458.82 224.41L459.08 225.96L459.34 227.56L459.61 229.19L459.87 230.86L460.13 232.56L460.39 234.3L460.65 236.07L460.91 237.88L461.17 239.72L461.43 241.59L461.69 243.5L461.95 245.43L462.22 247.39L462.48 249.39L462.74 251.41L463 253.46L463.26 255.53L463.52 257.63L463.78 259.75L464.04 261.9L464.3 264.07L464.56 266.26L464.82 268.47L465.09 270.7L465.35 272.95L465.61 275.22L465.87 277.5L466.13 279.8L466.39 282.11L466.65 284.44L466.91 286.78L467.17 289.13L467.44 291.49L467.7 293.86L467.96 296.24L468.22 298.63L468.48 301.02L468.74 303.42L469 305.83L469.26 308.23L469.52 310.64L469.78 313.05L470.05 315.46L470.31 317.87L470.57 320.27L470.83 322.68L471.09 325.08L471.35 327.47L471.61 329.86L471.87 332.24L472.13 334.61L472.39 336.97L472.65 339.32L472.92 341.66L473.18 343.99L473.44 346.3L473.7 348.6L473.96 350.88L474.22 353.15L474.48 355.4L474.74 357.63L475 359.84L475.27 362.03L475.53 364.2L475.79 366.35L476.05 368.47L476.31 370.57L476.57 372.64L476.83 374.69L477.09 376.71L477.35 378.71L477.61 380.67L477.88 382.6L478.14 384.51L478.4 386.38L478.66 388.22L478.92 390.03L479.18 391.8L479.44 393.54L479.7 395.24L479.96 396.91L480.22 398.54L480.49 400.14L480.75 401.69L481.01 403.21L481.27 404.68L481.53 406.12L481.79 407.52L482.05 408.87L482.31 410.18L482.57 411.45L482.83 412.68L483.1 413.86L483.36 415L483.62 416.09L483.88 417.14L484.14 418.15L484.4 419.1L484.66 420.01L484.92 420.88L485.18 421.69L485.44 422.46L485.7 423.18L485.97 423.85L486.23 424.48L486.49 425.05L486.75 425.58L487.01 426.05L487.27 426.48L487.53 426.86L487.79 427.19L488.05 427.46L488.31 427.69L488.58 427.87L488.84 427.99L489.1 428.07L489.36 428.09L489.62 428.07L489.88 427.99L490.14 427.87L490.4 427.69L490.66 427.46L490.93 427.19L491.19 426.86L491.45 426.48L491.71 426.05L491.97 425.58L492.23 425.05L492.49 424.48L492.75 423.85L493.01 423.18L493.27 422.46L493.53 421.69L493.8 420.88L494.06 420.01L494.32 419.1L494.58 418.15L494.84 417.14L495.1 416.09L495.36 415L495.62 413.86L495.88 412.68L496.15 411.45L496.41 410.18L496.67 408.87L496.93 407.52L497.19 406.12L497.45 404.68L497.71 403.21L497.97 401.69L498.23 400.14L498.49 398.54L498.76 396.91L499.02 395.24L499.28 393.54L499.54 391.8L499.8 390.03L500.06 388.22L500.32 386.38L500.58 384.51L500.84 382.6L501.1 380.67L501.37 378.71L501.63 376.71L501.89 374.69L502.15 372.64L502.41 370.57L502.67 368.47L502.93 366.35L503.19 364.2L503.45 362.03L503.71 359.84L503.98 357.63L504.24 355.4L504.5 353.15L504.76 350.88L505.02 348.6L505.28 346.3L505.54 343.99L505.8 341.66L506.06 339.32L506.32 336.97L506.58 334.61L506.85 332.24L507.11 329.86L507.37 327.47L507.63 325.08L507.89 322.68L508.15 320.27L508.41 317.87L508.67 315.46L508.93 313.05L509.19 310.64L509.46 308.23L509.72 305.83L509.98 303.42L510.24 301.02L510.5 298.63" stroke="#D32F2F" stroke-width="6.15"/>
<path d="M119 198.01H510.5" stroke="#FFA000" stroke-width="7.2" stroke-dasharray="12.355 12.355"/>
</g>
<text x="102.77" y="170.08" text-anchor="end">0.1</text>
<text x="105.29" y="326.6" text-anchor="end">0</text>
<text transform="translate(20.73 483.07) scale(1.3 0.85)" style="stroke:none">−</text><text x="102.77" y="481.92" text-anchor="end">0.1</text>
<text x="523.7" y="196.17">50</text>
<text x="524.21" y="326.6">0</text>
<text transform="translate(525.68 456.99) scale(1.3 0.85)" style="stroke:none">−</text><text x="555.7" y="455.83">50</text>
<text x="119" y="551.5" text-anchor="middle">0</text>
<text x="275.6" y="551.5" text-anchor="middle">2</text>
<text x="432.2" y="551.5" text-anchor="middle">4</text>
<text x="228.84" y="608" textLength="171.57" lengthAdjust="spacing">Time <tspan font-size="39" dy="-1">(</tspan><tspan dy="1">m</tspan>s<tspan font-size="39" dy="-1">)</tspan></text>
<text transform="translate(58 410.12) rotate(-90)" textLength="193.64" lengthAdjust="spacing">Current <tspan font-size="39" dy="-1">(</tspan><tspan dy="1">A</tspan><tspan font-size="39" dy="-1">)</tspan></text>
<text transform="translate(593.1 409.07) rotate(-90)" textLength="191.89" lengthAdjust="spacing">Voltage <tspan font-size="39" dy="-1">(</tspan><tspan dy="1">V</tspan><tspan font-size="39" dy="-1">)</tspan></text>
<text transform="translate(-2.63 126.74) scale(1 0.93)" font-weight="bold" style="stroke-width:0.15px">(</text>
<text x="11.36" y="128.15" font-weight="bold" style="stroke-width:0.15px">a</text>
<text transform="translate(32.36 126.74) scale(1 0.93)" font-weight="bold" style="stroke-width:0.15px">)</text>
<path d="M759.95 148.43H777.55M759.95 311.35H777.55M759.95 474.27H777.55M1151.1 181.02H1133.5M1151.1 311.35H1133.5M1151.1 441.68H1133.5M759.95 506.85V489.25M759.95 115.85V133.45M916.41 506.85V489.25M916.41 115.85V133.45M1072.87 506.85V489.25M1072.87 115.85V133.45" stroke="#000" stroke-width="0.5" fill="none"/>
<rect x="759.95" y="115.85" width="391.15" height="391" fill="none" stroke="#000" stroke-width="2"/>
<g clip-path="url(#clipb)" fill="none" stroke-linejoin="round">
<path d="M759.95 311.35L760.21 308.62L760.47 305.89L760.73 303.17L760.99 300.44L761.25 297.73L761.51 295.01L761.78 292.31L762.04 289.61L762.3 286.93L762.56 284.25L762.82 281.59L763.08 278.94L763.34 276.3L763.6 273.68L763.86 271.07L764.12 268.49L764.38 265.92L764.64 263.37L764.9 260.84L765.17 258.34L765.43 255.86L765.69 253.4L765.95 250.97L766.21 248.56L766.47 246.18L766.73 243.83L766.99 241.51L767.25 239.22L767.51 236.97L767.77 234.74L768.03 232.55L768.29 230.39L768.56 228.27L768.82 226.19L769.08 224.14L769.34 222.13L769.6 220.16L769.86 218.23L770.12 216.34L770.38 214.49L770.64 212.69L770.9 210.93L771.16 209.21L771.42 207.54L771.68 205.91L771.95 204.33L772.21 202.79L772.47 201.31L772.73 199.87L772.99 198.48L773.25 197.14L773.51 195.85L773.77 194.61L774.03 193.42L774.29 192.28L774.55 191.2L774.81 190.17L775.07 189.19L775.34 188.27L775.6 187.4L775.86 186.58L776.12 185.82L776.38 185.11L776.64 184.46L776.9 183.86L777.16 183.33L777.42 182.84L777.68 182.41L777.94 182.04L778.2 181.73L778.46 181.47L778.73 181.27L778.99 181.13L779.25 181.05L779.51 181.02L779.77 181.05L780.03 181.13L780.29 181.27L780.55 181.47L780.81 181.73L781.07 182.04L781.33 182.41L781.59 182.84L781.85 183.33L782.12 183.86L782.38 184.46L782.64 185.11L782.9 185.82L783.16 186.58L783.42 187.4L783.68 188.27L783.94 189.19L784.2 190.17L784.46 191.2L784.72 192.28L784.98 193.42L785.24 194.61L785.51 195.85L785.77 197.14L786.03 198.48L786.29 199.87L786.55 201.31L786.81 202.79L787.07 204.33L787.33 205.91L787.59 207.54L787.85 209.21L788.11 210.93L788.37 212.69L788.63 214.49L788.9 216.34L789.16 218.23L789.42 220.16L789.68 222.13L789.94 224.14L790.2 226.19L790.46 228.27L790.72 230.39L790.98 232.55L791.24 234.74L791.5 236.97L791.76 239.22L792.02 241.51L792.29 243.83L792.55 246.18L792.81 248.56L793.07 250.97L793.33 253.4L793.59 255.86L793.85 258.34L794.11 260.84L794.37 263.37L794.63 265.92L794.89 268.49L795.15 271.07L795.41 273.68L795.68 276.3L795.94 278.94L796.2 281.59L796.46 284.25L796.72 286.93L796.98 289.61L797.24 292.31L797.5 295.01L797.76 297.73L798.02 300.44L798.28 303.17L798.54 305.89L798.8 308.62L799.07 311.35L799.33 314.08L799.59 316.81L799.85 319.53L800.11 322.26L800.37 324.97L800.63 327.69L800.89 330.39L801.15 333.09L801.41 335.77L801.67 338.45L801.93 341.11L802.19 343.76L802.45 346.4L802.72 349.02L802.98 351.63L803.24 354.21L803.5 356.78L803.76 359.33L804.02 361.86L804.28 364.36L804.54 366.84L804.8 369.3L805.06 371.73L805.32 374.14L805.58 376.52L805.84 378.87L806.11 381.19L806.37 383.48L806.63 385.73L806.89 387.96L807.15 390.15L807.41 392.31L807.67 394.43L807.93 396.51L808.19 398.56L808.45 400.57L808.71 402.54L808.97 404.47L809.23 406.36L809.5 408.21L809.76 410.01L810.02 411.77L810.28 413.49L810.54 415.16L810.8 416.79L811.06 418.37L811.32 419.91L811.58 421.39L811.84 422.83L812.1 424.22L812.36 425.56L812.62 426.85L812.89 428.09L813.15 429.28L813.41 430.42L813.67 431.5L813.93 432.53L814.19 433.51L814.45 434.43L814.71 435.3L814.97 436.12L815.23 436.88L815.49 437.59L815.75 438.24L816.01 438.84L816.28 439.37L816.54 439.86L816.8 440.29L817.06 440.66L817.32 440.97L817.58 441.23L817.84 441.43L818.1 441.57L818.36 441.65L818.62 441.68L818.88 441.65L819.14 441.57L819.4 441.43L819.67 441.23L819.93 440.97L820.19 440.66L820.45 440.29L820.71 439.86L820.97 439.37L821.23 438.84L821.49 438.24L821.75 437.59L822.01 436.88L822.27 436.12L822.53 435.3L822.79 434.43L823.06 433.51L823.32 432.53L823.58 431.5L823.84 430.42L824.1 429.28L824.36 428.09L824.62 426.85L824.88 425.56L825.14 424.22L825.4 422.83L825.66 421.39L825.92 419.91L826.18 418.37L826.45 416.79L826.71 415.16L826.97 413.49L827.23 411.77L827.49 410.01L827.75 408.21L828.01 406.36L828.27 404.47L828.53 402.54L828.79 400.57L829.05 398.56L829.31 396.51L829.57 394.43L829.84 392.31L830.1 390.15L830.36 387.96L830.62 385.73L830.88 383.48L831.14 381.19L831.4 378.87L831.66 376.52L831.92 374.14L832.18 371.73L832.44 369.3L832.7 366.84L832.96 364.36L833.23 361.86L833.49 359.33L833.75 356.78L834.01 354.21L834.27 351.63L834.53 349.02L834.79 346.4L835.05 343.76L835.31 341.11L835.57 338.45L835.83 335.77L836.09 333.09L836.35 330.39L836.62 327.69L836.88 324.97L837.14 322.26L837.4 319.53L837.66 316.81L837.92 314.08L838.18 311.35L838.44 308.62L838.7 305.89L838.96 303.17L839.22 300.44L839.48 297.73L839.74 295.01L840.01 292.31L840.27 289.61L840.53 286.93L840.79 284.25L841.05 281.59L841.31 278.94L841.57 276.3L841.83 273.68L842.09 271.07L842.35 268.49L842.61 265.92L842.87 263.37L843.13 260.84L843.4 258.34L843.66 255.86L843.92 253.4L844.18 250.97L844.44 248.56L844.7 246.18L844.96 243.83L845.22 241.51L845.48 239.22L845.74 236.97L846 234.74L846.26 232.55L846.52 230.39L846.79 228.27L847.05 226.19L847.31 224.14L847.57 222.13L847.83 220.16L848.09 218.23L848.35 216.34L848.61 214.49L848.87 212.69L849.13 210.93L849.39 209.21L849.65 207.54L849.91 205.91L850.18 204.33L850.44 202.79L850.7 201.31L850.96 199.87L851.22 198.48L851.48 197.14L851.74 195.85L852 194.61L852.26 193.42L852.52 192.28L852.78 191.2L853.04 190.17L853.3 189.19L853.57 188.27L853.83 187.4L854.09 186.58L854.35 185.82L854.61 185.11L854.87 184.46L855.13 183.86L855.39 183.33L855.65 182.84L855.91 182.41L856.17 182.04L856.43 181.73L856.69 181.47L856.96 181.27L857.22 181.13L857.48 181.05L857.74 181.02L858 181.05L858.26 181.13L858.52 181.27L858.78 181.47L859.04 181.73L859.3 182.04L859.56 182.41L859.82 182.84L860.08 183.33L860.35 183.86L860.61 184.46L860.87 185.11L861.13 185.82L861.39 186.58L861.65 187.4L861.91 188.27L862.17 189.19L862.43 190.17L862.69 191.2L862.95 192.28L863.21 193.42L863.47 194.61L863.74 195.85L864 197.14L864.26 198.48L864.52 199.87L864.78 201.31L865.04 202.79L865.3 204.33L865.56 205.91L865.82 207.54L866.08 209.21L866.34 210.93L866.6 212.69L866.86 214.49L867.13 216.34L867.39 218.23L867.65 220.16L867.91 222.13L868.17 224.14L868.43 226.19L868.69 228.27L868.95 230.39L869.21 232.55L869.47 234.74L869.73 236.97L869.99 239.22L870.25 241.51L870.52 243.83L870.78 246.18L871.04 248.56L871.3 250.97L871.56 253.4L871.82 255.86L872.08 258.34L872.34 260.84L872.6 263.37L872.86 265.92L873.12 268.49L873.38 271.07L873.64 273.68L873.91 276.3L874.17 278.94L874.43 281.59L874.69 284.25L874.95 286.93L875.21 289.61L875.47 292.31L875.73 295.01L875.99 297.73L876.25 300.44L876.51 303.17L876.77 305.89L877.03 308.62L877.29 311.35L877.56 314.08L877.82 316.81L878.08 319.53L878.34 322.26L878.6 324.97L878.86 327.69L879.12 330.39L879.38 333.09L879.64 335.77L879.9 338.45L880.16 341.11L880.42 343.76L880.68 346.4L880.95 349.02L881.21 351.63L881.47 354.21L881.73 356.78L881.99 359.33L882.25 361.86L882.51 364.36L882.77 366.84L883.03 369.3L883.29 371.73L883.55 374.14L883.81 376.52L884.07 378.87L884.34 381.19L884.6 383.48L884.86 385.73L885.12 387.96L885.38 390.15L885.64 392.31L885.9 394.43L886.16 396.51L886.42 398.56L886.68 400.57L886.94 402.54L887.2 404.47L887.46 406.36L887.73 408.21L887.99 410.01L888.25 411.77L888.51 413.49L888.77 415.16L889.03 416.79L889.29 418.37L889.55 419.91L889.81 421.39L890.07 422.83L890.33 424.22L890.59 425.56L890.85 426.85L891.12 428.09L891.38 429.28L891.64 430.42L891.9 431.5L892.16 432.53L892.42 433.51L892.68 434.43L892.94 435.3L893.2 436.12L893.46 436.88L893.72 437.59L893.98 438.24L894.24 438.84L894.51 439.37L894.77 439.86L895.03 440.29L895.29 440.66L895.55 440.97L895.81 441.23L896.07 441.43L896.33 441.57L896.59 441.65L896.85 441.68L897.11 441.65L897.37 441.57L897.63 441.43L897.9 441.23L898.16 440.97L898.42 440.66L898.68 440.29L898.94 439.86L899.2 439.37L899.46 438.84L899.72 438.24L899.98 437.59L900.24 436.88L900.5 436.12L900.76 435.3L901.02 434.43L901.29 433.51L901.55 432.53L901.81 431.5L902.07 430.42L902.33 429.28L902.59 428.09L902.85 426.85L903.11 425.56L903.37 424.22L903.63 422.83L903.89 421.39L904.15 419.91L904.41 418.37L904.68 416.79L904.94 415.16L905.2 413.49L905.46 411.77L905.72 410.01L905.98 408.21L906.24 406.36L906.5 404.47L906.76 402.54L907.02 400.57L907.28 398.56L907.54 396.51L907.8 394.43L908.07 392.31L908.33 390.15L908.59 387.96L908.85 385.73L909.11 383.48L909.37 381.19L909.63 378.87L909.89 376.52L910.15 374.14L910.41 371.73L910.67 369.3L910.93 366.84L911.19 364.36L911.46 361.86L911.72 359.33L911.98 356.78L912.24 354.21L912.5 351.63L912.76 349.02L913.02 346.4L913.28 343.76L913.54 341.11L913.8 338.45L914.06 335.77L914.32 333.09L914.58 330.39L914.85 327.69L915.11 324.97L915.37 322.26L915.63 319.53L915.89 316.81L916.15 314.08L916.41 311.35L916.67 308.62L916.93 305.89L917.19 303.17L917.45 300.44L917.71 297.73L917.97 295.01L918.24 292.31L918.5 289.61L918.76 286.93L919.02 284.25L919.28 281.59L919.54 278.94L919.8 276.3L920.06 273.68L920.32 271.07L920.58 268.49L920.84 265.92L921.1 263.37L921.36 260.84L921.63 258.34L921.89 255.86L922.15 253.4L922.41 250.97L922.67 248.56L922.93 246.18L923.19 243.83L923.45 241.51L923.71 239.22L923.97 236.97L924.23 234.74L924.49 232.55L924.75 230.39L925.02 228.27L925.28 226.19L925.54 224.14L925.8 222.13L926.06 220.16L926.32 218.23L926.58 216.34L926.84 214.49L927.1 212.69L927.36 210.93L927.62 209.21L927.88 207.54L928.14 205.91L928.41 204.33L928.67 202.79L928.93 201.31L929.19 199.87L929.45 198.48L929.71 197.14L929.97 195.85L930.23 194.61L930.49 193.42L930.75 192.28L931.01 191.2L931.27 190.17L931.53 189.19L931.8 188.27L932.06 187.4L932.32 186.58L932.58 185.82L932.84 185.11L933.1 184.46L933.36 183.86L933.62 183.33L933.88 182.84L934.14 182.41L934.4 182.04L934.66 181.73L934.92 181.47L935.19 181.27L935.45 181.13L935.71 181.05L935.97 181.02L936.23 181.05L936.49 181.13L936.75 181.27L937.01 181.47L937.27 181.73L937.53 182.04L937.79 182.41L938.05 182.84L938.31 183.33L938.58 183.86L938.84 184.46L939.1 185.11L939.36 185.82L939.62 186.58L939.88 187.4L940.14 188.27L940.4 189.19L940.66 190.17L940.92 191.2L941.18 192.28L941.44 193.42L941.7 194.61L941.97 195.85L942.23 197.14L942.49 198.48L942.75 199.87L943.01 201.31L943.27 202.79L943.53 204.33L943.79 205.91L944.05 207.54L944.31 209.21L944.57 210.93L944.83 212.69L945.09 214.49L945.36 216.34L945.62 218.23L945.88 220.16L946.14 222.13L946.4 224.14L946.66 226.19L946.92 228.27L947.18 230.39L947.44 232.55L947.7 234.74L947.96 236.97L948.22 239.22L948.48 241.51L948.75 243.83L949.01 246.18L949.27 248.56L949.53 250.97L949.79 253.4L950.05 255.86L950.31 258.34L950.57 260.84L950.83 263.37L951.09 265.92L951.35 268.49L951.61 271.07L951.87 273.68L952.14 276.3L952.4 278.94L952.66 281.59L952.92 284.25L953.18 286.93L953.44 289.61L953.7 292.31L953.96 295.01L954.22 297.73L954.48 300.44L954.74 303.17L955 305.89L955.26 308.62L955.52 311.35L955.79 314.08L956.05 316.81L956.31 319.53L956.57 322.26L956.83 324.97L957.09 327.69L957.35 330.39L957.61 333.09L957.87 335.77L958.13 338.45L958.39 341.11L958.65 343.76L958.91 346.4L959.18 349.02L959.44 351.63L959.7 354.21L959.96 356.78L960.22 359.33L960.48 361.86L960.74 364.36L961 366.84L961.26 369.3L961.52 371.73L961.78 374.14L962.04 376.52L962.3 378.87L962.57 381.19L962.83 383.48L963.09 385.73L963.35 387.96L963.61 390.15L963.87 392.31L964.13 394.43L964.39 396.51L964.65 398.56L964.91 400.57L965.17 402.54L965.43 404.47L965.69 406.36L965.96 408.21L966.22 410.01L966.48 411.77L966.74 413.49L967 415.16L967.26 416.79L967.52 418.37L967.78 419.91L968.04 421.39L968.3 422.83L968.56 424.22L968.82 425.56L969.08 426.85L969.35 428.09L969.61 429.28L969.87 430.42L970.13 431.5L970.39 432.53L970.65 433.51L970.91 434.43L971.17 435.3L971.43 436.12L971.69 436.88L971.95 437.59L972.21 438.24L972.47 438.84L972.74 439.37L973 439.86L973.26 440.29L973.52 440.66L973.78 440.97L974.04 441.23L974.3 441.43L974.56 441.57L974.82 441.65L975.08 441.68L975.34 441.65L975.6 441.57L975.86 441.43L976.13 441.23L976.39 440.97L976.65 440.66L976.91 440.29L977.17 439.86L977.43 439.37L977.69 438.84L977.95 438.24L978.21 437.59L978.47 436.88L978.73 436.12L978.99 435.3L979.25 434.43L979.52 433.51L979.78 432.53L980.04 431.5L980.3 430.42L980.56 429.28L980.82 428.09L981.08 426.85L981.34 425.56L981.6 424.22L981.86 422.83L982.12 421.39L982.38 419.91L982.64 418.37L982.91 416.79L983.17 415.16L983.43 413.49L983.69 411.77L983.95 410.01L984.21 408.21L984.47 406.36L984.73 404.47L984.99 402.54L985.25 400.57L985.51 398.56L985.77 396.51L986.03 394.43L986.3 392.31L986.56 390.15L986.82 387.96L987.08 385.73L987.34 383.48L987.6 381.19L987.86 378.87L988.12 376.52L988.38 374.14L988.64 371.73L988.9 369.3L989.16 366.84L989.42 364.36L989.69 361.86L989.95 359.33L990.21 356.78L990.47 354.21L990.73 351.63L990.99 349.02L991.25 346.4L991.51 343.76L991.77 341.11L992.03 338.45L992.29 335.77L992.55 333.09L992.81 330.39L993.08 327.69L993.34 324.97L993.6 322.26L993.86 319.53L994.12 316.81L994.38 314.08L994.64 311.35L994.9 308.62L995.16 305.89L995.42 303.17L995.68 300.44L995.94 297.73L996.2 295.01L996.47 292.31L996.73 289.61L996.99 286.93L997.25 284.25L997.51 281.59L997.77 278.94L998.03 276.3L998.29 273.68L998.55 271.07L998.81 268.49L999.07 265.92L999.33 263.37L999.59 260.84L999.86 258.34L1000.12 255.86L1000.38 253.4L1000.64 250.97L1000.9 248.56L1001.16 246.18L1001.42 243.83L1001.68 241.51L1001.94 239.22L1002.2 236.97L1002.46 234.74L1002.72 232.55L1002.98 230.39L1003.25 228.27L1003.51 226.19L1003.77 224.14L1004.03 222.13L1004.29 220.16L1004.55 218.23L1004.81 216.34L1005.07 214.49L1005.33 212.69L1005.59 210.93L1005.85 209.21L1006.11 207.54L1006.37 205.91L1006.64 204.33L1006.9 202.79L1007.16 201.31L1007.42 199.87L1007.68 198.48L1007.94 197.14L1008.2 195.85L1008.46 194.61L1008.72 193.42L1008.98 192.28L1009.24 191.2L1009.5 190.17L1009.76 189.19L1010.03 188.27L1010.29 187.4L1010.55 186.58L1010.81 185.82L1011.07 185.11L1011.33 184.46L1011.59 183.86L1011.85 183.33L1012.11 182.84L1012.37 182.41L1012.63 182.04L1012.89 181.73L1013.15 181.47L1013.42 181.27L1013.68 181.13L1013.94 181.05L1014.2 181.02L1014.46 181.05L1014.72 181.13L1014.98 181.27L1015.24 181.47L1015.5 181.73L1015.76 182.04L1016.02 182.41L1016.28 182.84L1016.54 183.33L1016.81 183.86L1017.07 184.46L1017.33 185.11L1017.59 185.82L1017.85 186.58L1018.11 187.4L1018.37 188.27L1018.63 189.19L1018.89 190.17L1019.15 191.2L1019.41 192.28L1019.67 193.42L1019.93 194.61L1020.2 195.85L1020.46 197.14L1020.72 198.48L1020.98 199.87L1021.24 201.31L1021.5 202.79L1021.76 204.33L1022.02 205.91L1022.28 207.54L1022.54 209.21L1022.8 210.93L1023.06 212.69L1023.32 214.49L1023.59 216.34L1023.85 218.23L1024.11 220.16L1024.37 222.13L1024.63 224.14L1024.89 226.19L1025.15 228.27L1025.41 230.39L1025.67 232.55L1025.93 234.74L1026.19 236.97L1026.45 239.22L1026.71 241.51L1026.98 243.83L1027.24 246.18L1027.5 248.56L1027.76 250.97L1028.02 253.4L1028.28 255.86L1028.54 258.34L1028.8 260.84L1029.06 263.37L1029.32 265.92L1029.58 268.49L1029.84 271.07L1030.1 273.68L1030.37 276.3L1030.63 278.94L1030.89 281.59L1031.15 284.25L1031.41 286.93L1031.67 289.61L1031.93 292.31L1032.19 295.01L1032.45 297.73L1032.71 300.44L1032.97 303.17L1033.23 305.89L1033.49 308.62L1033.75 311.35L1034.02 314.08L1034.28 316.81L1034.54 319.53L1034.8 322.26L1035.06 324.97L1035.32 327.69L1035.58 330.39L1035.84 333.09L1036.1 335.77L1036.36 338.45L1036.62 341.11L1036.88 343.76L1037.14 346.4L1037.41 349.02L1037.67 351.63L1037.93 354.21L1038.19 356.78L1038.45 359.33L1038.71 361.86L1038.97 364.36L1039.23 366.84L1039.49 369.3L1039.75 371.73L1040.01 374.14L1040.27 376.52L1040.53 378.87L1040.8 381.19L1041.06 383.48L1041.32 385.73L1041.58 387.96L1041.84 390.15L1042.1 392.31L1042.36 394.43L1042.62 396.51L1042.88 398.56L1043.14 400.57L1043.4 402.54L1043.66 404.47L1043.92 406.36L1044.19 408.21L1044.45 410.01L1044.71 411.77L1044.97 413.49L1045.23 415.16L1045.49 416.79L1045.75 418.37L1046.01 419.91L1046.27 421.39L1046.53 422.83L1046.79 424.22L1047.05 425.56L1047.31 426.85L1047.58 428.09L1047.84 429.28L1048.1 430.42L1048.36 431.5L1048.62 432.53L1048.88 433.51L1049.14 434.43L1049.4 435.3L1049.66 436.12L1049.92 436.88L1050.18 437.59L1050.44 438.24L1050.7 438.84L1050.97 439.37L1051.23 439.86L1051.49 440.29L1051.75 440.66L1052.01 440.97L1052.27 441.23L1052.53 441.43L1052.79 441.57L1053.05 441.65L1053.31 441.68L1053.57 441.65L1053.83 441.57L1054.09 441.43L1054.36 441.23L1054.62 440.97L1054.88 440.66L1055.14 440.29L1055.4 439.86L1055.66 439.37L1055.92 438.84L1056.18 438.24L1056.44 437.59L1056.7 436.88L1056.96 436.12L1057.22 435.3L1057.48 434.43L1057.75 433.51L1058.01 432.53L1058.27 431.5L1058.53 430.42L1058.79 429.28L1059.05 428.09L1059.31 426.85L1059.57 425.56L1059.83 424.22L1060.09 422.83L1060.35 421.39L1060.61 419.91L1060.87 418.37L1061.14 416.79L1061.4 415.16L1061.66 413.49L1061.92 411.77L1062.18 410.01L1062.44 408.21L1062.7 406.36L1062.96 404.47L1063.22 402.54L1063.48 400.57L1063.74 398.56L1064 396.51L1064.26 394.43L1064.53 392.31L1064.79 390.15L1065.05 387.96L1065.31 385.73L1065.57 383.48L1065.83 381.19L1066.09 378.87L1066.35 376.52L1066.61 374.14L1066.87 371.73L1067.13 369.3L1067.39 366.84L1067.65 364.36L1067.92 361.86L1068.18 359.33L1068.44 356.78L1068.7 354.21L1068.96 351.63L1069.22 349.02L1069.48 346.4L1069.74 343.76L1070 341.11L1070.26 338.45L1070.52 335.77L1070.78 333.09L1071.04 330.39L1071.31 327.69L1071.57 324.97L1071.83 322.26L1072.09 319.53L1072.35 316.81L1072.61 314.08L1072.87 311.35L1073.13 308.62L1073.39 305.89L1073.65 303.17L1073.91 300.44L1074.17 297.73L1074.43 295.01L1074.7 292.31L1074.96 289.61L1075.22 286.93L1075.48 284.25L1075.74 281.59L1076 278.94L1076.26 276.3L1076.52 273.68L1076.78 271.07L1077.04 268.49L1077.3 265.92L1077.56 263.37L1077.82 260.84L1078.09 258.34L1078.35 255.86L1078.61 253.4L1078.87 250.97L1079.13 248.56L1079.39 246.18L1079.65 243.83L1079.91 241.51L1080.17 239.22L1080.43 236.97L1080.69 234.74L1080.95 232.55L1081.21 230.39L1081.48 228.27L1081.74 226.19L1082 224.14L1082.26 222.13L1082.52 220.16L1082.78 218.23L1083.04 216.34L1083.3 214.49L1083.56 212.69L1083.82 210.93L1084.08 209.21L1084.34 207.54L1084.6 205.91L1084.87 204.33L1085.13 202.79L1085.39 201.31L1085.65 199.87L1085.91 198.48L1086.17 197.14L1086.43 195.85L1086.69 194.61L1086.95 193.42L1087.21 192.28L1087.47 191.2L1087.73 190.17L1087.99 189.19L1088.26 188.27L1088.52 187.4L1088.78 186.58L1089.04 185.82L1089.3 185.11L1089.56 184.46L1089.82 183.86L1090.08 183.33L1090.34 182.84L1090.6 182.41L1090.86 182.04L1091.12 181.73L1091.38 181.47L1091.65 181.27L1091.91 181.13L1092.17 181.05L1092.43 181.02L1092.69 181.05L1092.95 181.13L1093.21 181.27L1093.47 181.47L1093.73 181.73L1093.99 182.04L1094.25 182.41L1094.51 182.84L1094.77 183.33L1095.04 183.86L1095.3 184.46L1095.56 185.11L1095.82 185.82L1096.08 186.58L1096.34 187.4L1096.6 188.27L1096.86 189.19L1097.12 190.17L1097.38 191.2L1097.64 192.28L1097.9 193.42L1098.16 194.61L1098.43 195.85L1098.69 197.14L1098.95 198.48L1099.21 199.87L1099.47 201.31L1099.73 202.79L1099.99 204.33L1100.25 205.91L1100.51 207.54L1100.77 209.21L1101.03 210.93L1101.29 212.69L1101.55 214.49L1101.82 216.34L1102.08 218.23L1102.34 220.16L1102.6 222.13L1102.86 224.14L1103.12 226.19L1103.38 228.27L1103.64 230.39L1103.9 232.55L1104.16 234.74L1104.42 236.97L1104.68 239.22L1104.94 241.51L1105.21 243.83L1105.47 246.18L1105.73 248.56L1105.99 250.97L1106.25 253.4L1106.51 255.86L1106.77 258.34L1107.03 260.84L1107.29 263.37L1107.55 265.92L1107.81 268.49L1108.07 271.07L1108.33 273.68L1108.6 276.3L1108.86 278.94L1109.12 281.59L1109.38 284.25L1109.64 286.93L1109.9 289.61L1110.16 292.31L1110.42 295.01L1110.68 297.73L1110.94 300.44L1111.2 303.17L1111.46 305.89L1111.72 308.62L1111.98 311.35L1112.25 314.08L1112.51 316.81L1112.77 319.53L1113.03 322.26L1113.29 324.97L1113.55 327.69L1113.81 330.39L1114.07 333.09L1114.33 335.77L1114.59 338.45L1114.85 341.11L1115.11 343.76L1115.37 346.4L1115.64 349.02L1115.9 351.63L1116.16 354.21L1116.42 356.78L1116.68 359.33L1116.94 361.86L1117.2 364.36L1117.46 366.84L1117.72 369.3L1117.98 371.73L1118.24 374.14L1118.5 376.52L1118.76 378.87L1119.03 381.19L1119.29 383.48L1119.55 385.73L1119.81 387.96L1120.07 390.15L1120.33 392.31L1120.59 394.43L1120.85 396.51L1121.11 398.56L1121.37 400.57L1121.63 402.54L1121.89 404.47L1122.15 406.36L1122.42 408.21L1122.68 410.01L1122.94 411.77L1123.2 413.49L1123.46 415.16L1123.72 416.79L1123.98 418.37L1124.24 419.91L1124.5 421.39L1124.76 422.83L1125.02 424.22L1125.28 425.56L1125.54 426.85L1125.81 428.09L1126.07 429.28L1126.33 430.42L1126.59 431.5L1126.85 432.53L1127.11 433.51L1127.37 434.43L1127.63 435.3L1127.89 436.12L1128.15 436.88L1128.41 437.59L1128.67 438.24L1128.93 438.84L1129.2 439.37L1129.46 439.86L1129.72 440.29L1129.98 440.66L1130.24 440.97L1130.5 441.23L1130.76 441.43L1131.02 441.57L1131.28 441.65L1131.54 441.68L1131.8 441.65L1132.06 441.57L1132.32 441.43L1132.59 441.23L1132.85 440.97L1133.11 440.66L1133.37 440.29L1133.63 439.86L1133.89 439.37L1134.15 438.84L1134.41 438.24L1134.67 437.59L1134.93 436.88L1135.19 436.12L1135.45 435.3L1135.71 434.43L1135.98 433.51L1136.24 432.53L1136.5 431.5L1136.76 430.42L1137.02 429.28L1137.28 428.09L1137.54 426.85L1137.8 425.56L1138.06 424.22L1138.32 422.83L1138.58 421.39L1138.84 419.91L1139.1 418.37L1139.37 416.79L1139.63 415.16L1139.89 413.49L1140.15 411.77L1140.41 410.01L1140.67 408.21L1140.93 406.36L1141.19 404.47L1141.45 402.54L1141.71 400.57L1141.97 398.56L1142.23 396.51L1142.49 394.43L1142.76 392.31L1143.02 390.15L1143.28 387.96L1143.54 385.73L1143.8 383.48L1144.06 381.19L1144.32 378.87L1144.58 376.52L1144.84 374.14L1145.1 371.73L1145.36 369.3L1145.62 366.84L1145.88 364.36L1146.15 361.86L1146.41 359.33L1146.67 356.78L1146.93 354.21L1147.19 351.63L1147.45 349.02L1147.71 346.4L1147.97 343.76L1148.23 341.11L1148.49 338.45L1148.75 335.77L1149.01 333.09L1149.27 330.39L1149.54 327.69L1149.8 324.97L1150.06 322.26L1150.32 319.53L1150.58 316.81L1150.84 314.08L1151.1 311.35" stroke="#03A9F4" stroke-width="6.15"/>
<path d="M759.95 311.35L760.21 295.3L760.47 281.83L760.73 270.45L760.99 260.77L761.25 252.48L761.51 245.33L761.78 239.11L762.04 233.66L762.3 228.86L762.56 224.58L762.82 220.76L763.08 217.31L763.34 214.19L763.6 211.35L763.86 208.75L764.12 206.36L764.38 204.17L764.64 202.15L764.9 200.29L765.17 198.57L765.43 196.99L765.69 195.52L765.95 194.18L766.21 192.95L766.47 191.83L766.73 190.82L766.99 189.9L767.25 189.08L767.51 188.36L767.77 187.73L768.03 187.19L768.29 186.74L768.56 186.38L768.82 186.11L769.08 185.92L769.34 185.82L769.6 185.8L769.86 185.86L770.12 186.01L770.38 186.23L770.64 186.54L770.9 186.92L771.16 187.38L771.42 187.92L771.68 188.53L771.95 189.22L772.21 189.98L772.47 190.81L772.73 191.72L772.99 192.69L773.25 193.74L773.51 194.85L773.77 196.03L774.03 197.28L774.29 198.59L774.55 199.97L774.81 201.41L775.07 202.92L775.34 204.48L775.6 206.11L775.86 207.79L776.12 209.54L776.38 211.33L776.64 213.19L776.9 215.1L777.16 217.06L777.42 219.07L777.68 221.14L777.94 223.25L778.2 225.42L778.46 227.63L778.73 229.88L778.99 232.18L779.25 234.53L779.51 236.91L779.77 239.34L780.03 241.81L780.29 244.31L780.55 246.85L780.81 249.43L781.07 252.04L781.33 254.68L781.59 257.35L781.85 260.06L782.12 262.79L782.38 265.55L782.64 268.34L782.9 271.15L783.16 273.98L783.42 276.83L783.68 279.71L783.94 282.6L784.2 285.51L784.46 288.44L784.72 291.38L784.98 294.34L785.24 297.3L785.51 300.28L785.77 303.26L786.03 306.26L786.29 309.25L786.55 312.26L786.81 315.26L787.07 318.27L787.33 321.28L787.59 324.28L787.85 327.29L788.11 330.29L788.37 333.28L788.63 336.27L788.9 339.25L789.16 342.22L789.42 345.18L789.68 348.12L789.94 351.06L790.2 353.97L790.46 356.87L790.72 359.76L790.98 362.62L791.24 365.47L791.5 368.29L791.76 371.09L792.02 373.86L792.29 376.61L792.55 379.33L792.81 382.02L793.07 384.69L793.33 387.32L793.59 389.93L793.85 392.49L794.11 395.03L794.37 397.53L794.63 399.99L794.89 402.42L795.15 404.8L795.41 407.15L795.68 409.46L795.94 411.72L796.2 413.94L796.46 416.12L796.72 418.25L796.98 420.34L797.24 422.38L797.5 424.37L797.76 426.32L798.02 428.21L798.28 430.06L798.54 431.85L798.8 433.59L799.07 435.28L799.33 436.91L799.59 438.49L799.85 440.01L800.11 441.48L800.37 442.9L800.63 444.25L800.89 445.55L801.15 446.79L801.41 447.97L801.67 449.09L801.93 450.15L802.19 451.16L802.45 452.1L802.72 452.98L802.98 453.79L803.24 454.55L803.5 455.24L803.76 455.87L804.02 456.44L804.28 456.94L804.54 457.39L804.8 457.76L805.06 458.08L805.32 458.33L805.58 458.51L805.84 458.63L806.11 458.69L806.37 458.68L806.63 458.61L806.89 458.48L807.15 458.28L807.41 458.01L807.67 457.68L807.93 457.29L808.19 456.84L808.45 456.32L808.71 455.73L808.97 455.09L809.23 454.38L809.5 453.61L809.76 452.77L810.02 451.88L810.28 450.92L810.54 449.9L810.8 448.83L811.06 447.69L811.32 446.49L811.58 445.23L811.84 443.92L812.1 442.54L812.36 441.11L812.62 439.63L812.89 438.08L813.15 436.48L813.41 434.83L813.67 433.12L813.93 431.36L814.19 429.54L814.45 427.68L814.71 425.76L814.97 423.8L815.23 421.78L815.49 419.72L815.75 417.6L816.01 415.45L816.28 413.24L816.54 411L816.8 408.7L817.06 406.37L817.32 403.99L817.58 401.58L817.84 399.12L818.1 396.63L818.36 394.09L818.62 391.53L818.88 388.92L819.14 386.29L819.4 383.62L819.67 380.92L819.93 378.18L820.19 375.42L820.45 372.63L820.71 369.82L820.97 366.98L821.23 364.11L821.49 361.22L821.75 358.31L822.01 355.38L822.27 352.43L822.53 349.46L822.79 346.47L823.06 343.47L823.32 340.46L823.58 337.43L823.84 334.39L824.1 331.34L824.36 328.29L824.62 325.22L824.88 322.15L825.14 319.07L825.4 315.99L825.66 312.91L825.92 309.83L826.18 306.75L826.45 303.67L826.71 300.6L826.97 297.52L827.23 294.46L827.49 291.4L827.75 288.35L828.01 285.32L828.27 282.29L828.53 279.27L828.79 276.27L829.05 273.29L829.31 270.32L829.57 267.37L829.84 264.44L830.1 261.53L830.36 258.64L830.62 255.78L830.88 252.94L831.14 250.12L831.4 247.33L831.66 244.57L831.92 241.84L832.18 239.14L832.44 236.47L832.7 233.84L832.96 231.24L833.23 228.67L833.49 226.14L833.75 223.65L834.01 221.19L834.27 218.78L834.53 216.4L834.79 214.07L835.05 211.78L835.31 209.53L835.57 207.33L835.83 205.18L836.09 203.07L836.35 201L836.62 198.99L836.88 197.03L837.14 195.11L837.4 193.25L837.66 191.44L837.92 189.68L838.18 187.98L838.44 186.32L838.7 184.73L838.96 183.19L839.22 181.7L839.48 180.27L839.74 178.9L840.01 177.59L840.27 176.34L840.53 175.15L840.79 174.01L841.05 172.94L841.31 171.92L841.57 170.97L841.83 170.08L842.09 169.25L842.35 168.49L842.61 167.78L842.87 167.14L843.13 166.56L843.4 166.05L843.66 165.6L843.92 165.21L844.18 164.89L844.44 164.63L844.7 164.44L844.96 164.31L845.22 164.25L845.48 164.25L845.74 164.31L846 164.44L846.26 164.63L846.52 164.89L846.79 165.21L847.05 165.6L847.31 166.05L847.57 166.56L847.83 167.14L848.09 167.78L848.35 168.48L848.61 169.25L848.87 170.08L849.13 170.97L849.39 171.92L849.65 172.93L849.91 174.01L850.18 175.14L850.44 176.34L850.7 177.59L850.96 178.9L851.22 180.27L851.48 181.7L851.74 183.18L852 184.72L852.26 186.32L852.52 187.97L852.78 189.68L853.04 191.43L853.3 193.25L853.57 195.11L853.83 197.02L854.09 198.99L854.35 201L854.61 203.06L854.87 205.17L855.13 207.33L855.39 209.53L855.65 211.77L855.91 214.06L856.17 216.39L856.43 218.77L856.69 221.18L856.96 223.64L857.22 226.13L857.48 228.66L857.74 231.23L858 233.83L858.26 236.46L858.52 239.13L858.78 241.83L859.04 244.56L859.3 247.32L859.56 250.11L859.82 252.92L860.08 255.76L860.35 258.63L860.61 261.52L860.87 264.43L861.13 267.36L861.39 270.31L861.65 273.27L861.91 276.26L862.17 279.26L862.43 282.27L862.69 285.3L862.95 288.34L863.21 291.38L863.47 294.44L863.74 297.51L864 300.58L864.26 303.65L864.52 306.73L864.78 309.81L865.04 312.89L865.3 315.97L865.56 319.05L865.82 322.12L866.08 325.19L866.34 328.26L866.6 331.32L866.86 334.36L867.13 337.4L867.39 340.43L867.65 343.44L867.91 346.44L868.17 349.43L868.43 352.39L868.69 355.34L868.95 358.27L869.21 361.18L869.47 364.07L869.73 366.94L869.99 369.78L870.25 372.59L870.52 375.38L870.78 378.14L871.04 380.87L871.3 383.57L871.56 386.24L871.82 388.87L872.08 391.47L872.34 394.04L872.6 396.57L872.86 399.06L873.12 401.52L873.38 403.93L873.64 406.31L873.91 408.64L874.17 410.93L874.43 413.17L874.69 415.38L874.95 417.53L875.21 419.64L875.47 421.7L875.73 423.71L875.99 425.68L876.25 427.59L876.51 429.46L876.77 431.27L877.03 433.02L877.29 434.73L877.56 436.38L877.82 437.98L878.08 439.52L878.34 441L878.6 442.43L878.86 443.8L879.12 445.11L879.38 446.36L879.64 447.56L879.9 448.69L880.16 449.77L880.42 450.78L880.68 451.73L880.95 452.62L881.21 453.45L881.47 454.22L881.73 454.92L881.99 455.56L882.25 456.14L882.51 456.65L882.77 457.1L883.03 457.49L883.29 457.81L883.55 458.07L883.81 458.26L884.07 458.39L884.34 458.46L884.6 458.46L884.86 458.39L885.12 458.26L885.38 458.07L885.64 457.81L885.9 457.49L886.16 457.1L886.42 456.65L886.68 456.14L886.94 455.56L887.2 454.92L887.46 454.22L887.73 453.45L887.99 452.62L888.25 451.73L888.51 450.78L888.77 449.77L889.03 448.69L889.29 447.56L889.55 446.36L889.81 445.11L890.07 443.8L890.33 442.43L890.59 441L890.85 439.52L891.12 437.98L891.38 436.38L891.64 434.73L891.9 433.02L892.16 431.27L892.42 429.46L892.68 427.59L892.94 425.68L893.2 423.71L893.46 421.7L893.72 419.64L893.98 417.53L894.24 415.38L894.51 413.17L894.77 410.93L895.03 408.64L895.29 406.31L895.55 403.93L895.81 401.52L896.07 399.06L896.33 396.57L896.59 394.04L896.85 391.47L897.11 388.87L897.37 386.24L897.63 383.57L897.9 380.87L898.16 378.14L898.42 375.38L898.68 372.59L898.94 369.78L899.2 366.94L899.46 364.07L899.72 361.18L899.98 358.27L900.24 355.34L900.5 352.39L900.76 349.43L901.02 346.44L901.29 343.44L901.55 340.43L901.81 337.4L902.07 334.36L902.33 331.32L902.59 328.26L902.85 325.19L903.11 322.12L903.37 319.05L903.63 315.97L903.89 312.89L904.15 309.81L904.41 306.73L904.68 303.65L904.94 300.58L905.2 297.51L905.46 294.44L905.72 291.38L905.98 288.34L906.24 285.3L906.5 282.27L906.76 279.26L907.02 276.26L907.28 273.27L907.54 270.31L907.8 267.36L908.07 264.43L908.33 261.52L908.59 258.63L908.85 255.76L909.11 252.92L909.37 250.11L909.63 247.32L909.89 244.56L910.15 241.83L910.41 239.13L910.67 236.46L910.93 233.83L911.19 231.23L911.46 228.66L911.72 226.13L911.98 223.64L912.24 221.18L912.5 218.77L912.76 216.39L913.02 214.06L913.28 211.77L913.54 209.53L913.8 207.32L914.06 205.17L914.32 203.06L914.58 201L914.85 198.99L915.11 197.02L915.37 195.11L915.63 193.24L915.89 191.43L916.15 189.68L916.41 187.97L916.67 186.32L916.93 184.72L917.19 183.18L917.45 181.7L917.71 180.27L917.97 178.9L918.24 177.59L918.5 176.34L918.76 175.14L919.02 174.01L919.28 172.93L919.54 171.92L919.8 170.97L920.06 170.08L920.32 169.25L920.58 168.48L920.84 167.78L921.1 167.14L921.36 166.56L921.63 166.05L921.89 165.6L922.15 165.21L922.41 164.89L922.67 164.63L922.93 164.44L923.19 164.31L923.45 164.24L923.71 164.24L923.97 164.31L924.23 164.44L924.49 164.63L924.75 164.89L925.02 165.21L925.28 165.6L925.54 166.05L925.8 166.56L926.06 167.14L926.32 167.78L926.58 168.48L926.84 169.25L927.1 170.08L927.36 170.97L927.62 171.92L927.88 172.93L928.14 174.01L928.41 175.14L928.67 176.34L928.93 177.59L929.19 178.9L929.45 180.27L929.71 181.7L929.97 183.18L930.23 184.72L930.49 186.32L930.75 187.97L931.01 189.68L931.27 191.43L931.53 193.24L931.8 195.11L932.06 197.02L932.32 198.99L932.58 201L932.84 203.06L933.1 205.17L933.36 207.32L933.62 209.53L933.88 211.77L934.14 214.06L934.4 216.39L934.66 218.77L934.92 221.18L935.19 223.64L935.45 226.13L935.71 228.66L935.97 231.23L936.23 233.83L936.49 236.46L936.75 239.13L937.01 241.83L937.27 244.56L937.53 247.32L937.79 250.11L938.05 252.92L938.31 255.76L938.58 258.63L938.84 261.52L939.1 264.43L939.36 267.36L939.62 270.31L939.88 273.27L940.14 276.26L940.4 279.26L940.66 282.27L940.92 285.3L941.18 288.34L941.44 291.38L941.7 294.44L941.97 297.51L942.23 300.58L942.49 303.65L942.75 306.73L943.01 309.81L943.27 312.89L943.53 315.97L943.79 319.05L944.05 322.12L944.31 325.19L944.57 328.26L944.83 331.32L945.09 334.36L945.36 337.4L945.62 340.43L945.88 343.44L946.14 346.44L946.4 349.43L946.66 352.39L946.92 355.34L947.18 358.27L947.44 361.18L947.7 364.07L947.96 366.94L948.22 369.78L948.48 372.59L948.75 375.38L949.01 378.14L949.27 380.87L949.53 383.57L949.79 386.24L950.05 388.87L950.31 391.47L950.57 394.04L950.83 396.57L951.09 399.06L951.35 401.52L951.61 403.93L951.87 406.31L952.14 408.64L952.4 410.93L952.66 413.17L952.92 415.38L953.18 417.53L953.44 419.64L953.7 421.7L953.96 423.71L954.22 425.68L954.48 427.59L954.74 429.46L955 431.27L955.26 433.02L955.52 434.73L955.79 436.38L956.05 437.98L956.31 439.52L956.57 441L956.83 442.43L957.09 443.8L957.35 445.11L957.61 446.36L957.87 447.56L958.13 448.69L958.39 449.77L958.65 450.78L958.91 451.73L959.18 452.62L959.44 453.45L959.7 454.22L959.96 454.92L960.22 455.56L960.48 456.14L960.74 456.65L961 457.1L961.26 457.49L961.52 457.81L961.78 458.07L962.04 458.26L962.3 458.39L962.57 458.46L962.83 458.46L963.09 458.39L963.35 458.26L963.61 458.07L963.87 457.81L964.13 457.49L964.39 457.1L964.65 456.65L964.91 456.14L965.17 455.56L965.43 454.92L965.69 454.22L965.96 453.45L966.22 452.62L966.48 451.73L966.74 450.78L967 449.77L967.26 448.69L967.52 447.56L967.78 446.36L968.04 445.11L968.3 443.8L968.56 442.43L968.82 441L969.08 439.52L969.35 437.98L969.61 436.38L969.87 434.73L970.13 433.02L970.39 431.27L970.65 429.46L970.91 427.59L971.17 425.68L971.43 423.71L971.69 421.7L971.95 419.64L972.21 417.53L972.47 415.38L972.74 413.17L973 410.93L973.26 408.64L973.52 406.31L973.78 403.93L974.04 401.52L974.3 399.06L974.56 396.57L974.82 394.04L975.08 391.47L975.34 388.87L975.6 386.24L975.86 383.57L976.13 380.87L976.39 378.14L976.65 375.38L976.91 372.59L977.17 369.78L977.43 366.94L977.69 364.07L977.95 361.18L978.21 358.27L978.47 355.34L978.73 352.39L978.99 349.43L979.25 346.44L979.52 343.44L979.78 340.43L980.04 337.4L980.3 334.36L980.56 331.32L980.82 328.26L981.08 325.19L981.34 322.12L981.6 319.05L981.86 315.97L982.12 312.89L982.38 309.81L982.64 306.73L982.91 303.65L983.17 300.58L983.43 297.51L983.69 294.44L983.95 291.38L984.21 288.34L984.47 285.3L984.73 282.27L984.99 279.26L985.25 276.26L985.51 273.27L985.77 270.31L986.03 267.36L986.3 264.43L986.56 261.52L986.82 258.63L987.08 255.76L987.34 252.92L987.6 250.11L987.86 247.32L988.12 244.56L988.38 241.83L988.64 239.13L988.9 236.46L989.16 233.83L989.42 231.23L989.69 228.66L989.95 226.13L990.21 223.64L990.47 221.18L990.73 218.77L990.99 216.39L991.25 214.06L991.51 211.77L991.77 209.53L992.03 207.32L992.29 205.17L992.55 203.06L992.81 201L993.08 198.99L993.34 197.02L993.6 195.11L993.86 193.24L994.12 191.43L994.38 189.68L994.64 187.97L994.9 186.32L995.16 184.72L995.42 183.18L995.68 181.7L995.94 180.27L996.2 178.9L996.47 177.59L996.73 176.34L996.99 175.14L997.25 174.01L997.51 172.93L997.77 171.92L998.03 170.97L998.29 170.08L998.55 169.25L998.81 168.48L999.07 167.78L999.33 167.14L999.59 166.56L999.86 166.05L1000.12 165.6L1000.38 165.21L1000.64 164.89L1000.9 164.63L1001.16 164.44L1001.42 164.31L1001.68 164.24L1001.94 164.24L1002.2 164.31L1002.46 164.44L1002.72 164.63L1002.98 164.89L1003.25 165.21L1003.51 165.6L1003.77 166.05L1004.03 166.56L1004.29 167.14L1004.55 167.78L1004.81 168.48L1005.07 169.25L1005.33 170.08L1005.59 170.97L1005.85 171.92L1006.11 172.93L1006.37 174.01L1006.64 175.14L1006.9 176.34L1007.16 177.59L1007.42 178.9L1007.68 180.27L1007.94 181.7L1008.2 183.18L1008.46 184.72L1008.72 186.32L1008.98 187.97L1009.24 189.68L1009.5 191.43L1009.76 193.24L1010.03 195.11L1010.29 197.02L1010.55 198.99L1010.81 201L1011.07 203.06L1011.33 205.17L1011.59 207.32L1011.85 209.53L1012.11 211.77L1012.37 214.06L1012.63 216.39L1012.89 218.77L1013.15 221.18L1013.42 223.64L1013.68 226.13L1013.94 228.66L1014.2 231.23L1014.46 233.83L1014.72 236.46L1014.98 239.13L1015.24 241.83L1015.5 244.56L1015.76 247.32L1016.02 250.11L1016.28 252.92L1016.54 255.76L1016.81 258.63L1017.07 261.52L1017.33 264.43L1017.59 267.36L1017.85 270.31L1018.11 273.27L1018.37 276.26L1018.63 279.26L1018.89 282.27L1019.15 285.3L1019.41 288.34L1019.67 291.38L1019.93 294.44L1020.2 297.51L1020.46 300.58L1020.72 303.65L1020.98 306.73L1021.24 309.81L1021.5 312.89L1021.76 315.97L1022.02 319.05L1022.28 322.12L1022.54 325.19L1022.8 328.26L1023.06 331.32L1023.32 334.36L1023.59 337.4L1023.85 340.43L1024.11 343.44L1024.37 346.44L1024.63 349.43L1024.89 352.39L1025.15 355.34L1025.41 358.27L1025.67 361.18L1025.93 364.07L1026.19 366.94L1026.45 369.78L1026.71 372.59L1026.98 375.38L1027.24 378.14L1027.5 380.87L1027.76 383.57L1028.02 386.24L1028.28 388.87L1028.54 391.47L1028.8 394.04L1029.06 396.57L1029.32 399.06L1029.58 401.52L1029.84 403.93L1030.1 406.31L1030.37 408.64L1030.63 410.93L1030.89 413.17L1031.15 415.38L1031.41 417.53L1031.67 419.64L1031.93 421.7L1032.19 423.71L1032.45 425.68L1032.71 427.59L1032.97 429.46L1033.23 431.27L1033.49 433.02L1033.75 434.73L1034.02 436.38L1034.28 437.98L1034.54 439.52L1034.8 441L1035.06 442.43L1035.32 443.8L1035.58 445.11L1035.84 446.36L1036.1 447.56L1036.36 448.69L1036.62 449.77L1036.88 450.78L1037.14 451.73L1037.41 452.62L1037.67 453.45L1037.93 454.22L1038.19 454.92L1038.45 455.56L1038.71 456.14L1038.97 456.65L1039.23 457.1L1039.49 457.49L1039.75 457.81L1040.01 458.07L1040.27 458.26L1040.53 458.39L1040.8 458.46L1041.06 458.46L1041.32 458.39L1041.58 458.26L1041.84 458.07L1042.1 457.81L1042.36 457.49L1042.62 457.1L1042.88 456.65L1043.14 456.14L1043.4 455.56L1043.66 454.92L1043.92 454.22L1044.19 453.45L1044.45 452.62L1044.71 451.73L1044.97 450.78L1045.23 449.77L1045.49 448.69L1045.75 447.56L1046.01 446.36L1046.27 445.11L1046.53 443.8L1046.79 442.43L1047.05 441L1047.31 439.52L1047.58 437.98L1047.84 436.38L1048.1 434.73L1048.36 433.02L1048.62 431.27L1048.88 429.46L1049.14 427.59L1049.4 425.68L1049.66 423.71L1049.92 421.7L1050.18 419.64L1050.44 417.53L1050.7 415.38L1050.97 413.17L1051.23 410.93L1051.49 408.64L1051.75 406.31L1052.01 403.93L1052.27 401.52L1052.53 399.06L1052.79 396.57L1053.05 394.04L1053.31 391.47L1053.57 388.87L1053.83 386.24L1054.09 383.57L1054.36 380.87L1054.62 378.14L1054.88 375.38L1055.14 372.59L1055.4 369.78L1055.66 366.94L1055.92 364.07L1056.18 361.18L1056.44 358.27L1056.7 355.34L1056.96 352.39L1057.22 349.43L1057.48 346.44L1057.75 343.44L1058.01 340.43L1058.27 337.4L1058.53 334.36L1058.79 331.32L1059.05 328.26L1059.31 325.19L1059.57 322.12L1059.83 319.05L1060.09 315.97L1060.35 312.89L1060.61 309.81L1060.87 306.73L1061.14 303.65L1061.4 300.58L1061.66 297.51L1061.92 294.44L1062.18 291.38L1062.44 288.34L1062.7 285.3L1062.96 282.27L1063.22 279.26L1063.48 276.26L1063.74 273.27L1064 270.31L1064.26 267.36L1064.53 264.43L1064.79 261.52L1065.05 258.63L1065.31 255.76L1065.57 252.92L1065.83 250.11L1066.09 247.32L1066.35 244.56L1066.61 241.83L1066.87 239.13L1067.13 236.46L1067.39 233.83L1067.65 231.23L1067.92 228.66L1068.18 226.13L1068.44 223.64L1068.7 221.18L1068.96 218.77L1069.22 216.39L1069.48 214.06L1069.74 211.77L1070 209.53L1070.26 207.32L1070.52 205.17L1070.78 203.06L1071.04 201L1071.31 198.99L1071.57 197.02L1071.83 195.11L1072.09 193.24L1072.35 191.43L1072.61 189.68L1072.87 187.97L1073.13 186.32L1073.39 184.72L1073.65 183.18L1073.91 181.7L1074.17 180.27L1074.43 178.9L1074.7 177.59L1074.96 176.34L1075.22 175.14L1075.48 174.01L1075.74 172.93L1076 171.92L1076.26 170.97L1076.52 170.08L1076.78 169.25L1077.04 168.48L1077.3 167.78L1077.56 167.14L1077.82 166.56L1078.09 166.05L1078.35 165.6L1078.61 165.21L1078.87 164.89L1079.13 164.63L1079.39 164.44L1079.65 164.31L1079.91 164.24L1080.17 164.24L1080.43 164.31L1080.69 164.44L1080.95 164.63L1081.21 164.89L1081.48 165.21L1081.74 165.6L1082 166.05L1082.26 166.56L1082.52 167.14L1082.78 167.78L1083.04 168.48L1083.3 169.25L1083.56 170.08L1083.82 170.97L1084.08 171.92L1084.34 172.93L1084.6 174.01L1084.87 175.14L1085.13 176.34L1085.39 177.59L1085.65 178.9L1085.91 180.27L1086.17 181.7L1086.43 183.18L1086.69 184.72L1086.95 186.32L1087.21 187.97L1087.47 189.68L1087.73 191.43L1087.99 193.24L1088.26 195.11L1088.52 197.02L1088.78 198.99L1089.04 201L1089.3 203.06L1089.56 205.17L1089.82 207.32L1090.08 209.53L1090.34 211.77L1090.6 214.06L1090.86 216.39L1091.12 218.77L1091.38 221.18L1091.65 223.64L1091.91 226.13L1092.17 228.66L1092.43 231.23L1092.69 233.83L1092.95 236.46L1093.21 239.13L1093.47 241.83L1093.73 244.56L1093.99 247.32L1094.25 250.11L1094.51 252.92L1094.77 255.76L1095.04 258.63L1095.3 261.52L1095.56 264.43L1095.82 267.36L1096.08 270.31L1096.34 273.27L1096.6 276.26L1096.86 279.26L1097.12 282.27L1097.38 285.3L1097.64 288.34L1097.9 291.38L1098.16 294.44L1098.43 297.51L1098.69 300.58L1098.95 303.65L1099.21 306.73L1099.47 309.81L1099.73 312.89L1099.99 315.97L1100.25 319.05L1100.51 322.12L1100.77 325.19L1101.03 328.26L1101.29 331.32L1101.55 334.36L1101.82 337.4L1102.08 340.43L1102.34 343.44L1102.6 346.44L1102.86 349.43L1103.12 352.39L1103.38 355.34L1103.64 358.27L1103.9 361.18L1104.16 364.07L1104.42 366.94L1104.68 369.78L1104.94 372.59L1105.21 375.38L1105.47 378.14L1105.73 380.87L1105.99 383.57L1106.25 386.24L1106.51 388.87L1106.77 391.47L1107.03 394.04L1107.29 396.57L1107.55 399.06L1107.81 401.52L1108.07 403.93L1108.33 406.31L1108.6 408.64L1108.86 410.93L1109.12 413.17L1109.38 415.38L1109.64 417.53L1109.9 419.64L1110.16 421.7L1110.42 423.71L1110.68 425.68L1110.94 427.59L1111.2 429.46L1111.46 431.27L1111.72 433.02L1111.98 434.73L1112.25 436.38L1112.51 437.98L1112.77 439.52L1113.03 441L1113.29 442.43L1113.55 443.8L1113.81 445.11L1114.07 446.36L1114.33 447.56L1114.59 448.69L1114.85 449.77L1115.11 450.78L1115.37 451.73L1115.64 452.62L1115.9 453.45L1116.16 454.22L1116.42 454.92L1116.68 455.56L1116.94 456.14L1117.2 456.65L1117.46 457.1L1117.72 457.49L1117.98 457.81L1118.24 458.07L1118.5 458.26L1118.76 458.39L1119.03 458.46L1119.29 458.46L1119.55 458.39L1119.81 458.26L1120.07 458.07L1120.33 457.81L1120.59 457.49L1120.85 457.1L1121.11 456.65L1121.37 456.14L1121.63 455.56L1121.89 454.92L1122.15 454.22L1122.42 453.45L1122.68 452.62L1122.94 451.73L1123.2 450.78L1123.46 449.77L1123.72 448.69L1123.98 447.56L1124.24 446.36L1124.5 445.11L1124.76 443.8L1125.02 442.43L1125.28 441L1125.54 439.52L1125.81 437.98L1126.07 436.38L1126.33 434.73L1126.59 433.02L1126.85 431.27L1127.11 429.46L1127.37 427.59L1127.63 425.68L1127.89 423.71L1128.15 421.7L1128.41 419.64L1128.67 417.53L1128.93 415.38L1129.2 413.17L1129.46 410.93L1129.72 408.64L1129.98 406.31L1130.24 403.93L1130.5 401.52L1130.76 399.06L1131.02 396.57L1131.28 394.04L1131.54 391.47L1131.8 388.87L1132.06 386.24L1132.32 383.57L1132.59 380.87L1132.85 378.14L1133.11 375.38L1133.37 372.59L1133.63 369.78L1133.89 366.94L1134.15 364.07L1134.41 361.18L1134.67 358.27L1134.93 355.34L1135.19 352.39L1135.45 349.43L1135.71 346.44L1135.98 343.44L1136.24 340.43L1136.5 337.4L1136.76 334.36L1137.02 331.32L1137.28 328.26L1137.54 325.19L1137.8 322.12L1138.06 319.05L1138.32 315.97L1138.58 312.89L1138.84 309.81L1139.1 306.73L1139.37 303.65L1139.63 300.58L1139.89 297.51L1140.15 294.44L1140.41 291.38L1140.67 288.34L1140.93 285.3L1141.19 282.27L1141.45 279.26L1141.71 276.26L1141.97 273.27L1142.23 270.31L1142.49 267.36L1142.76 264.43L1143.02 261.52L1143.28 258.63L1143.54 255.76L1143.8 252.92L1144.06 250.11L1144.32 247.32L1144.58 244.56L1144.84 241.83L1145.1 239.13L1145.36 236.46L1145.62 233.83L1145.88 231.23L1146.15 228.66L1146.41 226.13L1146.67 223.64L1146.93 221.18L1147.19 218.77L1147.45 216.39L1147.71 214.06L1147.97 211.77L1148.23 209.53L1148.49 207.32L1148.75 205.17L1149.01 203.06L1149.27 201L1149.54 198.99L1149.8 197.02L1150.06 195.11L1150.32 193.24L1150.58 191.43L1150.84 189.68L1151.1 187.97" stroke="#D32F2F" stroke-width="6.15"/>
<path d="M759.95 164.24H1151.1" stroke="#FFA000" stroke-width="7.2" stroke-dasharray="12.355 12.355"/>
</g>
<text x="744.69" y="161.98" text-anchor="end">0.5</text>
<text x="746.24" y="324.9" text-anchor="end">0</text>
<text transform="translate(661.68 487.77) scale(1.3 0.85)" style="stroke:none">−</text><text x="744.69" y="486.62" text-anchor="end">0.5</text>
<text x="1164.3" y="194.57">50</text>
<text x="1164.81" y="324.9">0</text>
<text transform="translate(1166.28 455.19) scale(1.3 0.85)" style="stroke:none">−</text><text x="1196.3" y="454.03">50</text>
<text x="759.95" y="549.65" text-anchor="middle">0</text>
<text x="916.41" y="549.65" text-anchor="middle">20</text>
<text x="1072.87" y="549.65" text-anchor="middle">40</text>
<text x="875.24" y="606.15" textLength="160.27" lengthAdjust="spacing">Time <tspan font-size="39" dy="-1">(</tspan><tspan dy="1">µ</tspan>s<tspan font-size="39" dy="-1">)</tspan></text>
<text transform="translate(698.95 408.82) rotate(-90)" textLength="193.84" lengthAdjust="spacing">Current <tspan font-size="39" dy="-1">(</tspan><tspan dy="1">A</tspan><tspan font-size="39" dy="-1">)</tspan></text>
<text transform="translate(1233.7 407.57) rotate(-90)" textLength="192.39" lengthAdjust="spacing">Voltage <tspan font-size="39" dy="-1">(</tspan><tspan dy="1">V</tspan><tspan font-size="39" dy="-1">)</tspan></text>
<text transform="translate(635.96 125.19) scale(1 0.93)" font-weight="bold" style="stroke-width:0.15px">(</text>
<text x="649.95" y="126.6" font-weight="bold" style="stroke-width:0.15px">b</text>
<text transform="translate(673.31 125.19) scale(1 0.93)" font-weight="bold" style="stroke-width:0.15px">)</text>
<path d="M1396.1 137.62H1413.7M1396.1 311.4H1413.7M1396.1 485.18H1413.7M1787.45 181.07H1769.85M1787.45 311.4H1769.85M1787.45 441.73H1769.85M1396.1 506.9V489.3M1396.1 115.9V133.5M1552.64 506.9V489.3M1552.64 115.9V133.5M1709.18 506.9V489.3M1709.18 115.9V133.5" stroke="#000" stroke-width="0.5" fill="none"/>
<rect x="1396.1" y="115.9" width="391.35" height="391" fill="none" stroke="#000" stroke-width="2"/>
<g clip-path="url(#clipc)" fill="none" stroke-linejoin="round">
<path d="M1396.1 311.4L1396.36 308.67L1396.62 305.94L1396.88 303.22L1397.14 300.49L1397.4 297.78L1397.67 295.06L1397.93 292.36L1398.19 289.66L1398.45 286.98L1398.71 284.3L1398.97 281.64L1399.23 278.99L1399.49 276.35L1399.75 273.73L1400.01 271.12L1400.27 268.54L1400.54 265.97L1400.8 263.42L1401.06 260.89L1401.32 258.39L1401.58 255.91L1401.84 253.45L1402.1 251.02L1402.36 248.61L1402.62 246.23L1402.88 243.88L1403.14 241.56L1403.41 239.27L1403.67 237.02L1403.93 234.79L1404.19 232.6L1404.45 230.44L1404.71 228.32L1404.97 226.24L1405.23 224.19L1405.49 222.18L1405.75 220.21L1406.01 218.28L1406.28 216.39L1406.54 214.54L1406.8 212.74L1407.06 210.98L1407.32 209.26L1407.58 207.59L1407.84 205.96L1408.1 204.38L1408.36 202.84L1408.62 201.36L1408.88 199.92L1409.14 198.53L1409.41 197.19L1409.67 195.9L1409.93 194.66L1410.19 193.47L1410.45 192.33L1410.71 191.25L1410.97 190.22L1411.23 189.24L1411.49 188.32L1411.75 187.45L1412.01 186.63L1412.28 185.87L1412.54 185.16L1412.8 184.51L1413.06 183.91L1413.32 183.38L1413.58 182.89L1413.84 182.46L1414.1 182.09L1414.36 181.78L1414.62 181.52L1414.88 181.32L1415.15 181.18L1415.41 181.1L1415.67 181.07L1415.93 181.1L1416.19 181.18L1416.45 181.32L1416.71 181.52L1416.97 181.78L1417.23 182.09L1417.49 182.46L1417.75 182.89L1418.02 183.38L1418.28 183.91L1418.54 184.51L1418.8 185.16L1419.06 185.87L1419.32 186.63L1419.58 187.45L1419.84 188.32L1420.1 189.24L1420.36 190.22L1420.62 191.25L1420.89 192.33L1421.15 193.47L1421.41 194.66L1421.67 195.9L1421.93 197.19L1422.19 198.53L1422.45 199.92L1422.71 201.36L1422.97 202.84L1423.23 204.38L1423.49 205.96L1423.76 207.59L1424.02 209.26L1424.28 210.98L1424.54 212.74L1424.8 214.54L1425.06 216.39L1425.32 218.28L1425.58 220.21L1425.84 222.18L1426.1 224.19L1426.36 226.24L1426.63 228.32L1426.89 230.44L1427.15 232.6L1427.41 234.79L1427.67 237.02L1427.93 239.27L1428.19 241.56L1428.45 243.88L1428.71 246.23L1428.97 248.61L1429.23 251.02L1429.5 253.45L1429.76 255.91L1430.02 258.39L1430.28 260.89L1430.54 263.42L1430.8 265.97L1431.06 268.54L1431.32 271.12L1431.58 273.73L1431.84 276.35L1432.1 278.99L1432.37 281.64L1432.63 284.3L1432.89 286.98L1433.15 289.66L1433.41 292.36L1433.67 295.06L1433.93 297.78L1434.19 300.49L1434.45 303.22L1434.71 305.94L1434.97 308.67L1435.23 311.4L1435.5 314.13L1435.76 316.86L1436.02 319.58L1436.28 322.31L1436.54 325.02L1436.8 327.74L1437.06 330.44L1437.32 333.14L1437.58 335.82L1437.84 338.5L1438.1 341.16L1438.37 343.81L1438.63 346.45L1438.89 349.07L1439.15 351.68L1439.41 354.26L1439.67 356.83L1439.93 359.38L1440.19 361.91L1440.45 364.41L1440.71 366.89L1440.97 369.35L1441.24 371.78L1441.5 374.19L1441.76 376.57L1442.02 378.92L1442.28 381.24L1442.54 383.53L1442.8 385.78L1443.06 388.01L1443.32 390.2L1443.58 392.36L1443.84 394.48L1444.11 396.56L1444.37 398.61L1444.63 400.62L1444.89 402.59L1445.15 404.52L1445.41 406.41L1445.67 408.26L1445.93 410.06L1446.19 411.82L1446.45 413.54L1446.71 415.21L1446.98 416.84L1447.24 418.42L1447.5 419.96L1447.76 421.44L1448.02 422.88L1448.28 424.27L1448.54 425.61L1448.8 426.9L1449.06 428.14L1449.32 429.33L1449.58 430.47L1449.85 431.55L1450.11 432.58L1450.37 433.56L1450.63 434.48L1450.89 435.35L1451.15 436.17L1451.41 436.93L1451.67 437.64L1451.93 438.29L1452.19 438.89L1452.45 439.42L1452.72 439.91L1452.98 440.34L1453.24 440.71L1453.5 441.02L1453.76 441.28L1454.02 441.48L1454.28 441.62L1454.54 441.7L1454.8 441.73L1455.06 441.7L1455.32 441.62L1455.59 441.48L1455.85 441.28L1456.11 441.02L1456.37 440.71L1456.63 440.34L1456.89 439.91L1457.15 439.42L1457.41 438.89L1457.67 438.29L1457.93 437.64L1458.19 436.93L1458.46 436.17L1458.72 435.35L1458.98 434.48L1459.24 433.56L1459.5 432.58L1459.76 431.55L1460.02 430.47L1460.28 429.33L1460.54 428.14L1460.8 426.9L1461.06 425.61L1461.32 424.27L1461.59 422.88L1461.85 421.44L1462.11 419.96L1462.37 418.42L1462.63 416.84L1462.89 415.21L1463.15 413.54L1463.41 411.82L1463.67 410.06L1463.93 408.26L1464.19 406.41L1464.46 404.52L1464.72 402.59L1464.98 400.62L1465.24 398.61L1465.5 396.56L1465.76 394.48L1466.02 392.36L1466.28 390.2L1466.54 388.01L1466.8 385.78L1467.06 383.53L1467.33 381.24L1467.59 378.92L1467.85 376.57L1468.11 374.19L1468.37 371.78L1468.63 369.35L1468.89 366.89L1469.15 364.41L1469.41 361.91L1469.67 359.38L1469.93 356.83L1470.2 354.26L1470.46 351.68L1470.72 349.07L1470.98 346.45L1471.24 343.81L1471.5 341.16L1471.76 338.5L1472.02 335.82L1472.28 333.14L1472.54 330.44L1472.8 327.74L1473.07 325.02L1473.33 322.31L1473.59 319.58L1473.85 316.86L1474.11 314.13L1474.37 311.4L1474.63 308.67L1474.89 305.94L1475.15 303.22L1475.41 300.49L1475.67 297.78L1475.94 295.06L1476.2 292.36L1476.46 289.66L1476.72 286.98L1476.98 284.3L1477.24 281.64L1477.5 278.99L1477.76 276.35L1478.02 273.73L1478.28 271.12L1478.54 268.54L1478.81 265.97L1479.07 263.42L1479.33 260.89L1479.59 258.39L1479.85 255.91L1480.11 253.45L1480.37 251.02L1480.63 248.61L1480.89 246.23L1481.15 243.88L1481.41 241.56L1481.68 239.27L1481.94 237.02L1482.2 234.79L1482.46 232.6L1482.72 230.44L1482.98 228.32L1483.24 226.24L1483.5 224.19L1483.76 222.18L1484.02 220.21L1484.28 218.28L1484.55 216.39L1484.81 214.54L1485.07 212.74L1485.33 210.98L1485.59 209.26L1485.85 207.59L1486.11 205.96L1486.37 204.38L1486.63 202.84L1486.89 201.36L1487.15 199.92L1487.41 198.53L1487.68 197.19L1487.94 195.9L1488.2 194.66L1488.46 193.47L1488.72 192.33L1488.98 191.25L1489.24 190.22L1489.5 189.24L1489.76 188.32L1490.02 187.45L1490.28 186.63L1490.55 185.87L1490.81 185.16L1491.07 184.51L1491.33 183.91L1491.59 183.38L1491.85 182.89L1492.11 182.46L1492.37 182.09L1492.63 181.78L1492.89 181.52L1493.15 181.32L1493.42 181.18L1493.68 181.1L1493.94 181.07L1494.2 181.1L1494.46 181.18L1494.72 181.32L1494.98 181.52L1495.24 181.78L1495.5 182.09L1495.76 182.46L1496.02 182.89L1496.29 183.38L1496.55 183.91L1496.81 184.51L1497.07 185.16L1497.33 185.87L1497.59 186.63L1497.85 187.45L1498.11 188.32L1498.37 189.24L1498.63 190.22L1498.89 191.25L1499.16 192.33L1499.42 193.47L1499.68 194.66L1499.94 195.9L1500.2 197.19L1500.46 198.53L1500.72 199.92L1500.98 201.36L1501.24 202.84L1501.5 204.38L1501.76 205.96L1502.03 207.59L1502.29 209.26L1502.55 210.98L1502.81 212.74L1503.07 214.54L1503.33 216.39L1503.59 218.28L1503.85 220.21L1504.11 222.18L1504.37 224.19L1504.63 226.24L1504.9 228.32L1505.16 230.44L1505.42 232.6L1505.68 234.79L1505.94 237.02L1506.2 239.27L1506.46 241.56L1506.72 243.88L1506.98 246.23L1507.24 248.61L1507.5 251.02L1507.77 253.45L1508.03 255.91L1508.29 258.39L1508.55 260.89L1508.81 263.42L1509.07 265.97L1509.33 268.54L1509.59 271.12L1509.85 273.73L1510.11 276.35L1510.37 278.99L1510.64 281.64L1510.9 284.3L1511.16 286.98L1511.42 289.66L1511.68 292.36L1511.94 295.06L1512.2 297.78L1512.46 300.49L1512.72 303.22L1512.98 305.94L1513.24 308.67L1513.5 311.4L1513.77 314.13L1514.03 316.86L1514.29 319.58L1514.55 322.31L1514.81 325.02L1515.07 327.74L1515.33 330.44L1515.59 333.14L1515.85 335.82L1516.11 338.5L1516.37 341.16L1516.64 343.81L1516.9 346.45L1517.16 349.07L1517.42 351.68L1517.68 354.26L1517.94 356.83L1518.2 359.38L1518.46 361.91L1518.72 364.41L1518.98 366.89L1519.24 369.35L1519.51 371.78L1519.77 374.19L1520.03 376.57L1520.29 378.92L1520.55 381.24L1520.81 383.53L1521.07 385.78L1521.33 388.01L1521.59 390.2L1521.85 392.36L1522.11 394.48L1522.38 396.56L1522.64 398.61L1522.9 400.62L1523.16 402.59L1523.42 404.52L1523.68 406.41L1523.94 408.26L1524.2 410.06L1524.46 411.82L1524.72 413.54L1524.98 415.21L1525.25 416.84L1525.51 418.42L1525.77 419.96L1526.03 421.44L1526.29 422.88L1526.55 424.27L1526.81 425.61L1527.07 426.9L1527.33 428.14L1527.59 429.33L1527.85 430.47L1528.12 431.55L1528.38 432.58L1528.64 433.56L1528.9 434.48L1529.16 435.35L1529.42 436.17L1529.68 436.93L1529.94 437.64L1530.2 438.29L1530.46 438.89L1530.72 439.42L1530.99 439.91L1531.25 440.34L1531.51 440.71L1531.77 441.02L1532.03 441.28L1532.29 441.48L1532.55 441.62L1532.81 441.7L1533.07 441.73L1533.33 441.7L1533.59 441.62L1533.86 441.48L1534.12 441.28L1534.38 441.02L1534.64 440.71L1534.9 440.34L1535.16 439.91L1535.42 439.42L1535.68 438.89L1535.94 438.29L1536.2 437.64L1536.46 436.93L1536.73 436.17L1536.99 435.35L1537.25 434.48L1537.51 433.56L1537.77 432.58L1538.03 431.55L1538.29 430.47L1538.55 429.33L1538.81 428.14L1539.07 426.9L1539.33 425.61L1539.6 424.27L1539.86 422.88L1540.12 421.44L1540.38 419.96L1540.64 418.42L1540.9 416.84L1541.16 415.21L1541.42 413.54L1541.68 411.82L1541.94 410.06L1542.2 408.26L1542.46 406.41L1542.73 404.52L1542.99 402.59L1543.25 400.62L1543.51 398.61L1543.77 396.56L1544.03 394.48L1544.29 392.36L1544.55 390.2L1544.81 388.01L1545.07 385.78L1545.33 383.53L1545.6 381.24L1545.86 378.92L1546.12 376.57L1546.38 374.19L1546.64 371.78L1546.9 369.35L1547.16 366.89L1547.42 364.41L1547.68 361.91L1547.94 359.38L1548.2 356.83L1548.47 354.26L1548.73 351.68L1548.99 349.07L1549.25 346.45L1549.51 343.81L1549.77 341.16L1550.03 338.5L1550.29 335.82L1550.55 333.14L1550.81 330.44L1551.07 327.74L1551.34 325.02L1551.6 322.31L1551.86 319.58L1552.12 316.86L1552.38 314.13L1552.64 311.4L1552.9 308.67L1553.16 305.94L1553.42 303.22L1553.68 300.49L1553.94 297.78L1554.21 295.06L1554.47 292.36L1554.73 289.66L1554.99 286.98L1555.25 284.3L1555.51 281.64L1555.77 278.99L1556.03 276.35L1556.29 273.73L1556.55 271.12L1556.81 268.54L1557.08 265.97L1557.34 263.42L1557.6 260.89L1557.86 258.39L1558.12 255.91L1558.38 253.45L1558.64 251.02L1558.9 248.61L1559.16 246.23L1559.42 243.88L1559.68 241.56L1559.95 239.27L1560.21 237.02L1560.47 234.79L1560.73 232.6L1560.99 230.44L1561.25 228.32L1561.51 226.24L1561.77 224.19L1562.03 222.18L1562.29 220.21L1562.55 218.28L1562.82 216.39L1563.08 214.54L1563.34 212.74L1563.6 210.98L1563.86 209.26L1564.12 207.59L1564.38 205.96L1564.64 204.38L1564.9 202.84L1565.16 201.36L1565.42 199.92L1565.68 198.53L1565.95 197.19L1566.21 195.9L1566.47 194.66L1566.73 193.47L1566.99 192.33L1567.25 191.25L1567.51 190.22L1567.77 189.24L1568.03 188.32L1568.29 187.45L1568.55 186.63L1568.82 185.87L1569.08 185.16L1569.34 184.51L1569.6 183.91L1569.86 183.38L1570.12 182.89L1570.38 182.46L1570.64 182.09L1570.9 181.78L1571.16 181.52L1571.42 181.32L1571.69 181.18L1571.95 181.1L1572.21 181.07L1572.47 181.1L1572.73 181.18L1572.99 181.32L1573.25 181.52L1573.51 181.78L1573.77 182.09L1574.03 182.46L1574.29 182.89L1574.56 183.38L1574.82 183.91L1575.08 184.51L1575.34 185.16L1575.6 185.87L1575.86 186.63L1576.12 187.45L1576.38 188.32L1576.64 189.24L1576.9 190.22L1577.16 191.25L1577.43 192.33L1577.69 193.47L1577.95 194.66L1578.21 195.9L1578.47 197.19L1578.73 198.53L1578.99 199.92L1579.25 201.36L1579.51 202.84L1579.77 204.38L1580.03 205.96L1580.3 207.59L1580.56 209.26L1580.82 210.98L1581.08 212.74L1581.34 214.54L1581.6 216.39L1581.86 218.28L1582.12 220.21L1582.38 222.18L1582.64 224.19L1582.9 226.24L1583.17 228.32L1583.43 230.44L1583.69 232.6L1583.95 234.79L1584.21 237.02L1584.47 239.27L1584.73 241.56L1584.99 243.88L1585.25 246.23L1585.51 248.61L1585.77 251.02L1586.04 253.45L1586.3 255.91L1586.56 258.39L1586.82 260.89L1587.08 263.42L1587.34 265.97L1587.6 268.54L1587.86 271.12L1588.12 273.73L1588.38 276.35L1588.64 278.99L1588.91 281.64L1589.17 284.3L1589.43 286.98L1589.69 289.66L1589.95 292.36L1590.21 295.06L1590.47 297.78L1590.73 300.49L1590.99 303.22L1591.25 305.94L1591.51 308.67L1591.78 311.4L1592.04 314.13L1592.3 316.86L1592.56 319.58L1592.82 322.31L1593.08 325.02L1593.34 327.74L1593.6 330.44L1593.86 333.14L1594.12 335.82L1594.38 338.5L1594.64 341.16L1594.91 343.81L1595.17 346.45L1595.43 349.07L1595.69 351.68L1595.95 354.26L1596.21 356.83L1596.47 359.38L1596.73 361.91L1596.99 364.41L1597.25 366.89L1597.51 369.35L1597.78 371.78L1598.04 374.19L1598.3 376.57L1598.56 378.92L1598.82 381.24L1599.08 383.53L1599.34 385.78L1599.6 388.01L1599.86 390.2L1600.12 392.36L1600.38 394.48L1600.65 396.56L1600.91 398.61L1601.17 400.62L1601.43 402.59L1601.69 404.52L1601.95 406.41L1602.21 408.26L1602.47 410.06L1602.73 411.82L1602.99 413.54L1603.25 415.21L1603.52 416.84L1603.78 418.42L1604.04 419.96L1604.3 421.44L1604.56 422.88L1604.82 424.27L1605.08 425.61L1605.34 426.9L1605.6 428.14L1605.86 429.33L1606.12 430.47L1606.39 431.55L1606.65 432.58L1606.91 433.56L1607.17 434.48L1607.43 435.35L1607.69 436.17L1607.95 436.93L1608.21 437.64L1608.47 438.29L1608.73 438.89L1608.99 439.42L1609.26 439.91L1609.52 440.34L1609.78 440.71L1610.04 441.02L1610.3 441.28L1610.56 441.48L1610.82 441.62L1611.08 441.7L1611.34 441.73L1611.6 441.7L1611.86 441.62L1612.13 441.48L1612.39 441.28L1612.65 441.02L1612.91 440.71L1613.17 440.34L1613.43 439.91L1613.69 439.42L1613.95 438.89L1614.21 438.29L1614.47 437.64L1614.73 436.93L1615 436.17L1615.26 435.35L1615.52 434.48L1615.78 433.56L1616.04 432.58L1616.3 431.55L1616.56 430.47L1616.82 429.33L1617.08 428.14L1617.34 426.9L1617.6 425.61L1617.87 424.27L1618.13 422.88L1618.39 421.44L1618.65 419.96L1618.91 418.42L1619.17 416.84L1619.43 415.21L1619.69 413.54L1619.95 411.82L1620.21 410.06L1620.47 408.26L1620.73 406.41L1621 404.52L1621.26 402.59L1621.52 400.62L1621.78 398.61L1622.04 396.56L1622.3 394.48L1622.56 392.36L1622.82 390.2L1623.08 388.01L1623.34 385.78L1623.6 383.53L1623.87 381.24L1624.13 378.92L1624.39 376.57L1624.65 374.19L1624.91 371.78L1625.17 369.35L1625.43 366.89L1625.69 364.41L1625.95 361.91L1626.21 359.38L1626.47 356.83L1626.74 354.26L1627 351.68L1627.26 349.07L1627.52 346.45L1627.78 343.81L1628.04 341.16L1628.3 338.5L1628.56 335.82L1628.82 333.14L1629.08 330.44L1629.34 327.74L1629.61 325.02L1629.87 322.31L1630.13 319.58L1630.39 316.86L1630.65 314.13L1630.91 311.4L1631.17 308.67L1631.43 305.94L1631.69 303.22L1631.95 300.49L1632.21 297.78L1632.48 295.06L1632.74 292.36L1633 289.66L1633.26 286.98L1633.52 284.3L1633.78 281.64L1634.04 278.99L1634.3 276.35L1634.56 273.73L1634.82 271.12L1635.08 268.54L1635.35 265.97L1635.61 263.42L1635.87 260.89L1636.13 258.39L1636.39 255.91L1636.65 253.45L1636.91 251.02L1637.17 248.61L1637.43 246.23L1637.69 243.88L1637.95 241.56L1638.22 239.27L1638.48 237.02L1638.74 234.79L1639 232.6L1639.26 230.44L1639.52 228.32L1639.78 226.24L1640.04 224.19L1640.3 222.18L1640.56 220.21L1640.82 218.28L1641.09 216.39L1641.35 214.54L1641.61 212.74L1641.87 210.98L1642.13 209.26L1642.39 207.59L1642.65 205.96L1642.91 204.38L1643.17 202.84L1643.43 201.36L1643.69 199.92L1643.95 198.53L1644.22 197.19L1644.48 195.9L1644.74 194.66L1645 193.47L1645.26 192.33L1645.52 191.25L1645.78 190.22L1646.04 189.24L1646.3 188.32L1646.56 187.45L1646.82 186.63L1647.09 185.87L1647.35 185.16L1647.61 184.51L1647.87 183.91L1648.13 183.38L1648.39 182.89L1648.65 182.46L1648.91 182.09L1649.17 181.78L1649.43 181.52L1649.69 181.32L1649.96 181.18L1650.22 181.1L1650.48 181.07L1650.74 181.1L1651 181.18L1651.26 181.32L1651.52 181.52L1651.78 181.78L1652.04 182.09L1652.3 182.46L1652.56 182.89L1652.83 183.38L1653.09 183.91L1653.35 184.51L1653.61 185.16L1653.87 185.87L1654.13 186.63L1654.39 187.45L1654.65 188.32L1654.91 189.24L1655.17 190.22L1655.43 191.25L1655.7 192.33L1655.96 193.47L1656.22 194.66L1656.48 195.9L1656.74 197.19L1657 198.53L1657.26 199.92L1657.52 201.36L1657.78 202.84L1658.04 204.38L1658.3 205.96L1658.57 207.59L1658.83 209.26L1659.09 210.98L1659.35 212.74L1659.61 214.54L1659.87 216.39L1660.13 218.28L1660.39 220.21L1660.65 222.18L1660.91 224.19L1661.17 226.24L1661.44 228.32L1661.7 230.44L1661.96 232.6L1662.22 234.79L1662.48 237.02L1662.74 239.27L1663 241.56L1663.26 243.88L1663.52 246.23L1663.78 248.61L1664.04 251.02L1664.31 253.45L1664.57 255.91L1664.83 258.39L1665.09 260.89L1665.35 263.42L1665.61 265.97L1665.87 268.54L1666.13 271.12L1666.39 273.73L1666.65 276.35L1666.91 278.99L1667.18 281.64L1667.44 284.3L1667.7 286.98L1667.96 289.66L1668.22 292.36L1668.48 295.06L1668.74 297.78L1669 300.49L1669.26 303.22L1669.52 305.94L1669.78 308.67L1670.05 311.4L1670.31 314.13L1670.57 316.86L1670.83 319.58L1671.09 322.31L1671.35 325.02L1671.61 327.74L1671.87 330.44L1672.13 333.14L1672.39 335.82L1672.65 338.5L1672.91 341.16L1673.18 343.81L1673.44 346.45L1673.7 349.07L1673.96 351.68L1674.22 354.26L1674.48 356.83L1674.74 359.38L1675 361.91L1675.26 364.41L1675.52 366.89L1675.78 369.35L1676.05 371.78L1676.31 374.19L1676.57 376.57L1676.83 378.92L1677.09 381.24L1677.35 383.53L1677.61 385.78L1677.87 388.01L1678.13 390.2L1678.39 392.36L1678.65 394.48L1678.92 396.56L1679.18 398.61L1679.44 400.62L1679.7 402.59L1679.96 404.52L1680.22 406.41L1680.48 408.26L1680.74 410.06L1681 411.82L1681.26 413.54L1681.52 415.21L1681.79 416.84L1682.05 418.42L1682.31 419.96L1682.57 421.44L1682.83 422.88L1683.09 424.27L1683.35 425.61L1683.61 426.9L1683.87 428.14L1684.13 429.33L1684.39 430.47L1684.66 431.55L1684.92 432.58L1685.18 433.56L1685.44 434.48L1685.7 435.35L1685.96 436.17L1686.22 436.93L1686.48 437.64L1686.74 438.29L1687 438.89L1687.26 439.42L1687.53 439.91L1687.79 440.34L1688.05 440.71L1688.31 441.02L1688.57 441.28L1688.83 441.48L1689.09 441.62L1689.35 441.7L1689.61 441.73L1689.87 441.7L1690.13 441.62L1690.4 441.48L1690.66 441.28L1690.92 441.02L1691.18 440.71L1691.44 440.34L1691.7 439.91L1691.96 439.42L1692.22 438.89L1692.48 438.29L1692.74 437.64L1693 436.93L1693.27 436.17L1693.53 435.35L1693.79 434.48L1694.05 433.56L1694.31 432.58L1694.57 431.55L1694.83 430.47L1695.09 429.33L1695.35 428.14L1695.61 426.9L1695.87 425.61L1696.13 424.27L1696.4 422.88L1696.66 421.44L1696.92 419.96L1697.18 418.42L1697.44 416.84L1697.7 415.21L1697.96 413.54L1698.22 411.82L1698.48 410.06L1698.74 408.26L1699 406.41L1699.27 404.52L1699.53 402.59L1699.79 400.62L1700.05 398.61L1700.31 396.56L1700.57 394.48L1700.83 392.36L1701.09 390.2L1701.35 388.01L1701.61 385.78L1701.87 383.53L1702.14 381.24L1702.4 378.92L1702.66 376.57L1702.92 374.19L1703.18 371.78L1703.44 369.35L1703.7 366.89L1703.96 364.41L1704.22 361.91L1704.48 359.38L1704.74 356.83L1705.01 354.26L1705.27 351.68L1705.53 349.07L1705.79 346.45L1706.05 343.81L1706.31 341.16L1706.57 338.5L1706.83 335.82L1707.09 333.14L1707.35 330.44L1707.61 327.74L1707.88 325.02L1708.14 322.31L1708.4 319.58L1708.66 316.86L1708.92 314.13L1709.18 311.4L1709.44 308.67L1709.7 305.94L1709.96 303.22L1710.22 300.49L1710.48 297.78L1710.75 295.06L1711.01 292.36L1711.27 289.66L1711.53 286.98L1711.79 284.3L1712.05 281.64L1712.31 278.99L1712.57 276.35L1712.83 273.73L1713.09 271.12L1713.35 268.54L1713.62 265.97L1713.88 263.42L1714.14 260.89L1714.4 258.39L1714.66 255.91L1714.92 253.45L1715.18 251.02L1715.44 248.61L1715.7 246.23L1715.96 243.88L1716.22 241.56L1716.49 239.27L1716.75 237.02L1717.01 234.79L1717.27 232.6L1717.53 230.44L1717.79 228.32L1718.05 226.24L1718.31 224.19L1718.57 222.18L1718.83 220.21L1719.09 218.28L1719.36 216.39L1719.62 214.54L1719.88 212.74L1720.14 210.98L1720.4 209.26L1720.66 207.59L1720.92 205.96L1721.18 204.38L1721.44 202.84L1721.7 201.36L1721.96 199.92L1722.22 198.53L1722.49 197.19L1722.75 195.9L1723.01 194.66L1723.27 193.47L1723.53 192.33L1723.79 191.25L1724.05 190.22L1724.31 189.24L1724.57 188.32L1724.83 187.45L1725.09 186.63L1725.36 185.87L1725.62 185.16L1725.88 184.51L1726.14 183.91L1726.4 183.38L1726.66 182.89L1726.92 182.46L1727.18 182.09L1727.44 181.78L1727.7 181.52L1727.96 181.32L1728.23 181.18L1728.49 181.1L1728.75 181.07L1729.01 181.1L1729.27 181.18L1729.53 181.32L1729.79 181.52L1730.05 181.78L1730.31 182.09L1730.57 182.46L1730.83 182.89L1731.1 183.38L1731.36 183.91L1731.62 184.51L1731.88 185.16L1732.14 185.87L1732.4 186.63L1732.66 187.45L1732.92 188.32L1733.18 189.24L1733.44 190.22L1733.7 191.25L1733.97 192.33L1734.23 193.47L1734.49 194.66L1734.75 195.9L1735.01 197.19L1735.27 198.53L1735.53 199.92L1735.79 201.36L1736.05 202.84L1736.31 204.38L1736.57 205.96L1736.84 207.59L1737.1 209.26L1737.36 210.98L1737.62 212.74L1737.88 214.54L1738.14 216.39L1738.4 218.28L1738.66 220.21L1738.92 222.18L1739.18 224.19L1739.44 226.24L1739.71 228.32L1739.97 230.44L1740.23 232.6L1740.49 234.79L1740.75 237.02L1741.01 239.27L1741.27 241.56L1741.53 243.88L1741.79 246.23L1742.05 248.61L1742.31 251.02L1742.58 253.45L1742.84 255.91L1743.1 258.39L1743.36 260.89L1743.62 263.42L1743.88 265.97L1744.14 268.54L1744.4 271.12L1744.66 273.73L1744.92 276.35L1745.18 278.99L1745.45 281.64L1745.71 284.3L1745.97 286.98L1746.23 289.66L1746.49 292.36L1746.75 295.06L1747.01 297.78L1747.27 300.49L1747.53 303.22L1747.79 305.94L1748.05 308.67L1748.32 311.4L1748.58 314.13L1748.84 316.86L1749.1 319.58L1749.36 322.31L1749.62 325.02L1749.88 327.74L1750.14 330.44L1750.4 333.14L1750.66 335.82L1750.92 338.5L1751.18 341.16L1751.45 343.81L1751.71 346.45L1751.97 349.07L1752.23 351.68L1752.49 354.26L1752.75 356.83L1753.01 359.38L1753.27 361.91L1753.53 364.41L1753.79 366.89L1754.05 369.35L1754.32 371.78L1754.58 374.19L1754.84 376.57L1755.1 378.92L1755.36 381.24L1755.62 383.53L1755.88 385.78L1756.14 388.01L1756.4 390.2L1756.66 392.36L1756.92 394.48L1757.19 396.56L1757.45 398.61L1757.71 400.62L1757.97 402.59L1758.23 404.52L1758.49 406.41L1758.75 408.26L1759.01 410.06L1759.27 411.82L1759.53 413.54L1759.79 415.21L1760.06 416.84L1760.32 418.42L1760.58 419.96L1760.84 421.44L1761.1 422.88L1761.36 424.27L1761.62 425.61L1761.88 426.9L1762.14 428.14L1762.4 429.33L1762.66 430.47L1762.93 431.55L1763.19 432.58L1763.45 433.56L1763.71 434.48L1763.97 435.35L1764.23 436.17L1764.49 436.93L1764.75 437.64L1765.01 438.29L1765.27 438.89L1765.53 439.42L1765.8 439.91L1766.06 440.34L1766.32 440.71L1766.58 441.02L1766.84 441.28L1767.1 441.48L1767.36 441.62L1767.62 441.7L1767.88 441.73L1768.14 441.7L1768.4 441.62L1768.67 441.48L1768.93 441.28L1769.19 441.02L1769.45 440.71L1769.71 440.34L1769.97 439.91L1770.23 439.42L1770.49 438.89L1770.75 438.29L1771.01 437.64L1771.27 436.93L1771.54 436.17L1771.8 435.35L1772.06 434.48L1772.32 433.56L1772.58 432.58L1772.84 431.55L1773.1 430.47L1773.36 429.33L1773.62 428.14L1773.88 426.9L1774.14 425.61L1774.41 424.27L1774.67 422.88L1774.93 421.44L1775.19 419.96L1775.45 418.42L1775.71 416.84L1775.97 415.21L1776.23 413.54L1776.49 411.82L1776.75 410.06L1777.01 408.26L1777.27 406.41L1777.54 404.52L1777.8 402.59L1778.06 400.62L1778.32 398.61L1778.58 396.56L1778.84 394.48L1779.1 392.36L1779.36 390.2L1779.62 388.01L1779.88 385.78L1780.14 383.53L1780.41 381.24L1780.67 378.92L1780.93 376.57L1781.19 374.19L1781.45 371.78L1781.71 369.35L1781.97 366.89L1782.23 364.41L1782.49 361.91L1782.75 359.38L1783.01 356.83L1783.28 354.26L1783.54 351.68L1783.8 349.07L1784.06 346.45L1784.32 343.81L1784.58 341.16L1784.84 338.5L1785.1 335.82L1785.36 333.14L1785.62 330.44L1785.88 327.74L1786.15 325.02L1786.41 322.31L1786.67 319.58L1786.93 316.86L1787.19 314.13L1787.45 311.4" stroke="#03A9F4" stroke-width="6.15"/>
<path d="M1396.1 311.4L1396.36 306.8L1396.62 302.29L1396.88 297.87L1397.14 293.55L1397.4 289.32L1397.67 285.19L1397.93 281.14L1398.19 277.2L1398.45 273.34L1398.71 269.58L1398.97 265.91L1399.23 262.33L1399.49 258.85L1399.75 255.46L1400.01 252.16L1400.27 248.96L1400.54 245.85L1400.8 242.83L1401.06 239.9L1401.32 237.06L1401.58 234.32L1401.84 231.67L1402.1 229.11L1402.36 226.64L1402.62 224.27L1402.88 221.98L1403.14 219.79L1403.41 217.69L1403.67 215.67L1403.93 213.75L1404.19 211.92L1404.45 210.18L1404.71 208.53L1404.97 206.97L1405.23 205.49L1405.49 204.11L1405.75 202.81L1406.01 201.6L1406.28 200.48L1406.54 199.45L1406.8 198.5L1407.06 197.64L1407.32 196.87L1407.58 196.18L1407.84 195.58L1408.1 195.06L1408.36 194.62L1408.62 194.27L1408.88 194L1409.14 193.81L1409.41 193.71L1409.67 193.68L1409.93 193.74L1410.19 193.88L1410.45 194.09L1410.71 194.38L1410.97 194.75L1411.23 195.2L1411.49 195.72L1411.75 196.32L1412.01 196.99L1412.28 197.74L1412.54 198.56L1412.8 199.45L1413.06 200.41L1413.32 201.44L1413.58 202.54L1413.84 203.71L1414.1 204.94L1414.36 206.25L1414.62 207.61L1414.88 209.04L1415.15 210.54L1415.41 212.09L1415.67 213.71L1415.93 215.39L1416.19 217.12L1416.45 218.91L1416.71 220.76L1416.97 222.67L1417.23 224.62L1417.49 226.64L1417.75 228.7L1418.02 230.81L1418.28 232.97L1418.54 235.18L1418.8 237.44L1419.06 239.74L1419.32 242.09L1419.58 244.48L1419.84 246.91L1420.1 249.38L1420.36 251.89L1420.62 254.43L1420.89 257.01L1421.15 259.63L1421.41 262.28L1421.67 264.96L1421.93 267.68L1422.19 270.42L1422.45 273.19L1422.71 275.98L1422.97 278.8L1423.23 281.65L1423.49 284.51L1423.76 287.4L1424.02 290.3L1424.28 293.22L1424.54 296.16L1424.8 299.11L1425.06 302.08L1425.32 305.06L1425.58 308.04L1425.84 311.04L1426.1 314.04L1426.36 317.05L1426.63 320.07L1426.89 323.08L1427.15 326.1L1427.41 329.12L1427.67 332.13L1427.93 335.15L1428.19 338.15L1428.45 341.16L1428.71 344.15L1428.97 347.14L1429.23 350.12L1429.5 353.08L1429.76 356.03L1430.02 358.97L1430.28 361.89L1430.54 364.8L1430.8 367.68L1431.06 370.55L1431.32 373.39L1431.58 376.22L1431.84 379.01L1432.1 381.79L1432.37 384.53L1432.63 387.25L1432.89 389.94L1433.15 392.6L1433.41 395.23L1433.67 397.82L1433.93 400.38L1434.19 402.91L1434.45 405.4L1434.71 407.85L1434.97 410.26L1435.23 412.64L1435.5 414.97L1435.76 417.26L1436.02 419.51L1436.28 421.71L1436.54 423.87L1436.8 425.98L1437.06 428.04L1437.32 430.06L1437.58 432.03L1437.84 433.94L1438.1 435.81L1438.37 437.62L1438.63 439.39L1438.89 441.1L1439.15 442.75L1439.41 444.35L1439.67 445.9L1439.93 447.38L1440.19 448.82L1440.45 450.19L1440.71 451.5L1440.97 452.76L1441.24 453.96L1441.5 455.09L1441.76 456.17L1442.02 457.18L1442.28 458.14L1442.54 459.03L1442.8 459.86L1443.06 460.62L1443.32 461.33L1443.58 461.97L1443.84 462.54L1444.11 463.05L1444.37 463.5L1444.63 463.88L1444.89 464.2L1445.15 464.45L1445.41 464.64L1445.67 464.76L1445.93 464.82L1446.19 464.81L1446.45 464.73L1446.71 464.59L1446.98 464.39L1447.24 464.12L1447.5 463.79L1447.76 463.39L1448.02 462.92L1448.28 462.39L1448.54 461.8L1448.8 461.14L1449.06 460.42L1449.32 459.63L1449.58 458.79L1449.85 457.87L1450.11 456.9L1450.37 455.86L1450.63 454.77L1450.89 453.61L1451.15 452.39L1451.41 451.11L1451.67 449.77L1451.93 448.37L1452.19 446.91L1452.45 445.4L1452.72 443.83L1452.98 442.2L1453.24 440.51L1453.5 438.77L1453.76 436.98L1454.02 435.13L1454.28 433.23L1454.54 431.28L1454.8 429.28L1455.06 427.23L1455.32 425.13L1455.59 422.97L1455.85 420.78L1456.11 418.53L1456.37 416.24L1456.63 413.91L1456.89 411.53L1457.15 409.11L1457.41 406.65L1457.67 404.15L1457.93 401.6L1458.19 399.02L1458.46 396.41L1458.72 393.76L1458.98 391.07L1459.24 388.35L1459.5 385.59L1459.76 382.81L1460.02 380L1460.28 377.15L1460.54 374.28L1460.8 371.39L1461.06 368.47L1461.32 365.52L1461.59 362.55L1461.85 359.56L1462.11 356.56L1462.37 353.53L1462.63 350.48L1462.89 347.42L1463.15 344.35L1463.41 341.26L1463.67 338.16L1463.93 335.05L1464.19 331.93L1464.46 328.81L1464.72 325.67L1464.98 322.54L1465.24 319.39L1465.5 316.25L1465.76 313.11L1466.02 309.96L1466.28 306.82L1466.54 303.68L1466.8 300.54L1467.06 297.42L1467.33 294.29L1467.59 291.18L1467.85 288.08L1468.11 284.99L1468.37 281.91L1468.63 278.85L1468.89 275.8L1469.15 272.77L1469.41 269.75L1469.67 266.76L1469.93 263.78L1470.2 260.83L1470.46 257.9L1470.72 255L1470.98 252.12L1471.24 249.27L1471.5 246.45L1471.76 243.66L1472.02 240.89L1472.28 238.16L1472.54 235.47L1472.8 232.8L1473.07 230.18L1473.33 227.59L1473.59 225.04L1473.85 222.52L1474.11 220.05L1474.37 217.62L1474.63 215.23L1474.89 212.88L1475.15 210.58L1475.41 208.32L1475.67 206.11L1475.94 203.95L1476.2 201.83L1476.46 199.76L1476.72 197.75L1476.98 195.78L1477.24 193.87L1477.5 192.01L1477.76 190.2L1478.02 188.44L1478.28 186.74L1478.54 185.1L1478.81 183.51L1479.07 181.98L1479.33 180.51L1479.59 179.1L1479.85 177.74L1480.11 176.45L1480.37 175.21L1480.63 174.04L1480.89 172.92L1481.15 171.87L1481.41 170.88L1481.68 169.95L1481.94 169.09L1482.2 168.29L1482.46 167.55L1482.72 166.88L1482.98 166.27L1483.24 165.72L1483.5 165.24L1483.76 164.83L1484.02 164.48L1484.28 164.2L1484.55 163.98L1484.81 163.82L1485.07 163.73L1485.33 163.71L1485.59 163.76L1485.85 163.86L1486.11 164.04L1486.37 164.28L1486.63 164.58L1486.89 164.95L1487.15 165.39L1487.41 165.89L1487.68 166.45L1487.94 167.08L1488.2 167.78L1488.46 168.53L1488.72 169.35L1488.98 170.24L1489.24 171.18L1489.5 172.19L1489.76 173.26L1490.02 174.39L1490.28 175.58L1490.55 176.84L1490.81 178.15L1491.07 179.52L1491.33 180.95L1491.59 182.44L1491.85 183.98L1492.11 185.59L1492.37 187.24L1492.63 188.96L1492.89 190.72L1493.15 192.54L1493.42 194.42L1493.68 196.34L1493.94 198.32L1494.2 200.35L1494.46 202.42L1494.72 204.55L1494.98 206.72L1495.24 208.94L1495.5 211.21L1495.76 213.52L1496.02 215.87L1496.29 218.26L1496.55 220.7L1496.81 223.18L1497.07 225.69L1497.33 228.25L1497.59 230.84L1497.85 233.47L1498.11 236.13L1498.37 238.83L1498.63 241.56L1498.89 244.32L1499.16 247.11L1499.42 249.93L1499.68 252.77L1499.94 255.65L1500.2 258.55L1500.46 261.47L1500.72 264.41L1500.98 267.38L1501.24 270.36L1501.5 273.37L1501.76 276.39L1502.03 279.43L1502.29 282.48L1502.55 285.54L1502.81 288.62L1503.07 291.71L1503.33 294.81L1503.59 297.91L1503.85 301.02L1504.11 304.14L1504.37 307.26L1504.63 310.38L1504.9 313.51L1505.16 316.63L1505.42 319.75L1505.68 322.87L1505.94 325.98L1506.2 329.09L1506.46 332.19L1506.72 335.29L1506.98 338.37L1507.24 341.44L1507.5 344.5L1507.77 347.54L1508.03 350.57L1508.29 353.59L1508.55 356.58L1508.81 359.56L1509.07 362.51L1509.33 365.45L1509.59 368.36L1509.85 371.24L1510.11 374.1L1510.37 376.94L1510.64 379.74L1510.9 382.52L1511.16 385.26L1511.42 387.98L1511.68 390.66L1511.94 393.31L1512.2 395.92L1512.46 398.49L1512.72 401.03L1512.98 403.53L1513.24 405.98L1513.5 408.4L1513.77 410.78L1514.03 413.11L1514.29 415.4L1514.55 417.64L1514.81 419.84L1515.07 421.99L1515.33 424.09L1515.59 426.15L1515.85 428.15L1516.11 430.1L1516.37 432L1516.64 433.85L1516.9 435.65L1517.16 437.39L1517.42 439.08L1517.68 440.71L1517.94 442.29L1518.2 443.81L1518.46 445.27L1518.72 446.68L1518.98 448.02L1519.24 449.31L1519.51 450.53L1519.77 451.7L1520.03 452.8L1520.29 453.85L1520.55 454.83L1520.81 455.75L1521.07 456.6L1521.33 457.4L1521.59 458.13L1521.85 458.79L1522.11 459.39L1522.38 459.93L1522.64 460.4L1522.9 460.81L1523.16 461.16L1523.42 461.43L1523.68 461.65L1523.94 461.8L1524.2 461.88L1524.46 461.9L1524.72 461.85L1524.98 461.73L1525.25 461.56L1525.51 461.31L1525.77 461L1526.03 460.63L1526.29 460.19L1526.55 459.69L1526.81 459.12L1527.07 458.48L1527.33 457.79L1527.59 457.03L1527.85 456.21L1528.12 455.32L1528.38 454.37L1528.64 453.36L1528.9 452.29L1529.16 451.16L1529.42 449.96L1529.68 448.71L1529.94 447.4L1530.2 446.02L1530.46 444.59L1530.72 443.1L1530.99 441.56L1531.25 439.95L1531.51 438.3L1531.77 436.58L1532.03 434.82L1532.29 433L1532.55 431.12L1532.81 429.2L1533.07 427.22L1533.33 425.19L1533.59 423.12L1533.86 420.99L1534.12 418.82L1534.38 416.6L1534.64 414.34L1534.9 412.03L1535.16 409.68L1535.42 407.29L1535.68 404.85L1535.94 402.37L1536.2 399.86L1536.46 397.31L1536.73 394.72L1536.99 392.09L1537.25 389.43L1537.51 386.73L1537.77 384.01L1538.03 381.25L1538.29 378.46L1538.55 375.64L1538.81 372.8L1539.07 369.93L1539.33 367.03L1539.6 364.11L1539.86 361.17L1540.12 358.21L1540.38 355.23L1540.64 352.22L1540.9 349.21L1541.16 346.17L1541.42 343.12L1541.68 340.06L1541.94 336.98L1542.2 333.9L1542.46 330.8L1542.73 327.7L1542.99 324.59L1543.25 321.48L1543.51 318.36L1543.77 315.24L1544.03 312.12L1544.29 309L1544.55 305.88L1544.81 302.76L1545.07 299.65L1545.33 296.54L1545.6 293.44L1545.86 290.35L1546.12 287.27L1546.38 284.2L1546.64 281.15L1546.9 278.1L1547.16 275.08L1547.42 272.07L1547.68 269.07L1547.94 266.1L1548.2 263.14L1548.47 260.21L1548.73 257.3L1548.99 254.42L1549.25 251.56L1549.51 248.73L1549.77 245.92L1550.03 243.15L1550.29 240.4L1550.55 237.69L1550.81 235.01L1551.07 232.37L1551.34 229.76L1551.6 227.18L1551.86 224.65L1552.12 222.15L1552.38 219.69L1552.64 217.27L1552.9 214.9L1553.16 212.57L1553.42 210.28L1553.68 208.03L1553.94 205.84L1554.21 203.69L1554.47 201.58L1554.73 199.53L1554.99 197.52L1555.25 195.57L1555.51 193.67L1555.77 191.82L1556.03 190.02L1556.29 188.27L1556.55 186.59L1556.81 184.95L1557.08 183.37L1557.34 181.85L1557.6 180.39L1557.86 178.98L1558.12 177.64L1558.38 176.35L1558.64 175.12L1558.9 173.95L1559.16 172.84L1559.42 171.8L1559.68 170.81L1559.95 169.89L1560.21 169.03L1560.47 168.24L1560.73 167.5L1560.99 166.83L1561.25 166.23L1561.51 165.69L1561.77 165.21L1562.03 164.8L1562.29 164.45L1562.55 164.17L1562.82 163.95L1563.08 163.8L1563.34 163.71L1563.6 163.69L1563.86 163.73L1564.12 163.84L1564.38 164.02L1564.64 164.26L1564.9 164.56L1565.16 164.93L1565.42 165.36L1565.68 165.86L1565.95 166.42L1566.21 167.05L1566.47 167.74L1566.73 168.49L1566.99 169.31L1567.25 170.19L1567.51 171.13L1567.77 172.14L1568.03 173.2L1568.29 174.33L1568.55 175.52L1568.82 176.76L1569.08 178.07L1569.34 179.44L1569.6 180.86L1569.86 182.34L1570.12 183.88L1570.38 185.48L1570.64 187.13L1570.9 188.84L1571.16 190.6L1571.42 192.41L1571.69 194.28L1571.95 196.19L1572.21 198.16L1572.47 200.18L1572.73 202.25L1572.99 204.37L1573.25 206.53L1573.51 208.74L1573.77 211L1574.03 213.3L1574.29 215.64L1574.56 218.03L1574.82 220.46L1575.08 222.92L1575.34 225.43L1575.6 227.98L1575.86 230.56L1576.12 233.18L1576.38 235.83L1576.64 238.52L1576.9 241.23L1577.16 243.98L1577.43 246.76L1577.69 249.57L1577.95 252.41L1578.21 255.27L1578.47 258.16L1578.73 261.07L1578.99 264L1579.25 266.96L1579.51 269.93L1579.77 272.93L1580.03 275.94L1580.3 278.97L1580.56 282.01L1580.82 285.06L1581.08 288.13L1581.34 291.2L1581.6 294.29L1581.86 297.39L1582.12 300.49L1582.38 303.59L1582.64 306.7L1582.9 309.81L1583.17 312.93L1583.43 316.04L1583.69 319.15L1583.95 322.26L1584.21 325.37L1584.47 328.46L1584.73 331.56L1584.99 334.64L1585.25 337.71L1585.51 340.77L1585.77 343.82L1586.04 346.86L1586.3 349.88L1586.56 352.88L1586.82 355.87L1587.08 358.84L1587.34 361.78L1587.6 364.71L1587.86 367.61L1588.12 370.49L1588.38 373.34L1588.64 376.16L1588.91 378.96L1589.17 381.73L1589.43 384.47L1589.69 387.17L1589.95 389.85L1590.21 392.49L1590.47 395.09L1590.73 397.66L1590.99 400.19L1591.25 402.68L1591.51 405.13L1591.78 407.54L1592.04 409.91L1592.3 412.24L1592.56 414.52L1592.82 416.76L1593.08 418.95L1593.34 421.1L1593.6 423.19L1593.86 425.24L1594.12 427.24L1594.38 429.19L1594.64 431.09L1594.91 432.94L1595.17 434.73L1595.43 436.47L1595.69 438.15L1595.95 439.78L1596.21 441.35L1596.47 442.87L1596.73 444.33L1596.99 445.73L1597.25 447.08L1597.51 448.36L1597.78 449.58L1598.04 450.75L1598.3 451.85L1598.56 452.89L1598.82 453.88L1599.08 454.79L1599.34 455.65L1599.6 456.44L1599.86 457.17L1600.12 457.84L1600.38 458.44L1600.65 458.98L1600.91 459.46L1601.17 459.86L1601.43 460.21L1601.69 460.49L1601.95 460.7L1602.21 460.86L1602.47 460.94L1602.73 460.96L1602.99 460.91L1603.25 460.8L1603.52 460.63L1603.78 460.39L1604.04 460.08L1604.3 459.71L1604.56 459.28L1604.82 458.78L1605.08 458.21L1605.34 457.58L1605.6 456.89L1605.86 456.14L1606.12 455.32L1606.39 454.44L1606.65 453.5L1606.91 452.49L1607.17 451.42L1607.43 450.3L1607.69 449.11L1607.95 447.86L1608.21 446.55L1608.47 445.19L1608.73 443.76L1608.99 442.28L1609.26 440.74L1609.52 439.15L1609.78 437.49L1610.04 435.79L1610.3 434.03L1610.56 432.21L1610.82 430.35L1611.08 428.43L1611.34 426.46L1611.6 424.44L1611.86 422.38L1612.13 420.26L1612.39 418.1L1612.65 415.89L1612.91 413.63L1613.17 411.33L1613.43 408.99L1613.69 406.6L1613.95 404.18L1614.21 401.71L1614.47 399.2L1614.73 396.66L1615 394.08L1615.26 391.46L1615.52 388.81L1615.78 386.12L1616.04 383.4L1616.3 380.65L1616.56 377.88L1616.82 375.07L1617.08 372.23L1617.34 369.37L1617.6 366.48L1617.87 363.57L1618.13 360.64L1618.39 357.69L1618.65 354.71L1618.91 351.72L1619.17 348.71L1619.43 345.69L1619.69 342.65L1619.95 339.59L1620.21 336.53L1620.47 333.45L1620.73 330.37L1621 327.27L1621.26 324.17L1621.52 321.07L1621.78 317.96L1622.04 314.85L1622.3 311.74L1622.56 308.62L1622.82 305.51L1623.08 302.41L1623.34 299.3L1623.6 296.21L1623.87 293.12L1624.13 290.03L1624.39 286.96L1624.65 283.9L1624.91 280.85L1625.17 277.82L1625.43 274.8L1625.69 271.8L1625.95 268.81L1626.21 265.84L1626.47 262.9L1626.74 259.97L1627 257.07L1627.26 254.2L1627.52 251.35L1627.78 248.52L1628.04 245.72L1628.3 242.96L1628.56 240.22L1628.82 237.51L1629.08 234.84L1629.34 232.2L1629.61 229.6L1629.87 227.03L1630.13 224.5L1630.39 222.01L1630.65 219.56L1630.91 217.15L1631.17 214.78L1631.43 212.45L1631.69 210.17L1631.95 207.93L1632.21 205.74L1632.48 203.59L1632.74 201.49L1633 199.45L1633.26 197.45L1633.52 195.5L1633.78 193.6L1634.04 191.75L1634.3 189.96L1634.56 188.22L1634.82 186.53L1635.08 184.9L1635.35 183.33L1635.61 181.81L1635.87 180.35L1636.13 178.95L1636.39 177.6L1636.65 176.32L1636.91 175.09L1637.17 173.93L1637.43 172.82L1637.69 171.78L1637.95 170.8L1638.22 169.88L1638.48 169.02L1638.74 168.23L1639 167.5L1639.26 166.83L1639.52 166.22L1639.78 165.68L1640.04 165.21L1640.3 164.8L1640.56 164.45L1640.82 164.17L1641.09 163.95L1641.35 163.8L1641.61 163.71L1641.87 163.69L1642.13 163.73L1642.39 163.84L1642.65 164.02L1642.91 164.25L1643.17 164.56L1643.43 164.93L1643.69 165.36L1643.95 165.86L1644.22 166.42L1644.48 167.04L1644.74 167.73L1645 168.48L1645.26 169.3L1645.52 170.18L1645.78 171.12L1646.04 172.12L1646.3 173.18L1646.56 174.31L1646.82 175.49L1647.09 176.74L1647.35 178.04L1647.61 179.41L1647.87 180.83L1648.13 182.31L1648.39 183.84L1648.65 185.44L1648.91 187.08L1649.17 188.79L1649.43 190.54L1649.69 192.35L1649.96 194.22L1650.22 196.13L1650.48 198.1L1650.74 200.11L1651 202.18L1651.26 204.29L1651.52 206.45L1651.78 208.66L1652.04 210.91L1652.3 213.2L1652.56 215.54L1652.83 217.93L1653.09 220.35L1653.35 222.81L1653.61 225.31L1653.87 227.86L1654.13 230.43L1654.39 233.05L1654.65 235.7L1654.91 238.38L1655.17 241.09L1655.43 243.84L1655.7 246.61L1655.96 249.42L1656.22 252.25L1656.48 255.11L1656.74 257.99L1657 260.89L1657.26 263.82L1657.52 266.77L1657.78 269.74L1658.04 272.73L1658.3 275.74L1658.57 278.76L1658.83 281.8L1659.09 284.85L1659.35 287.91L1659.61 290.98L1659.87 294.06L1660.13 297.15L1660.39 300.25L1660.65 303.35L1660.91 306.45L1661.17 309.56L1661.44 312.67L1661.7 315.78L1661.96 318.89L1662.22 321.99L1662.48 325.09L1662.74 328.18L1663 331.27L1663.26 334.35L1663.52 337.42L1663.78 340.47L1664.04 343.52L1664.31 346.55L1664.57 349.57L1664.83 352.57L1665.09 355.55L1665.35 358.51L1665.61 361.45L1665.87 364.38L1666.13 367.27L1666.39 370.15L1666.65 373L1666.91 375.82L1667.18 378.61L1667.44 381.38L1667.7 384.11L1667.96 386.81L1668.22 389.48L1668.48 392.12L1668.74 394.72L1669 397.28L1669.26 399.81L1669.52 402.3L1669.78 404.75L1670.05 407.16L1670.31 409.52L1670.57 411.85L1670.83 414.13L1671.09 416.36L1671.35 418.55L1671.61 420.7L1671.87 422.79L1672.13 424.84L1672.39 426.84L1672.65 428.78L1672.91 430.68L1673.18 432.52L1673.44 434.31L1673.7 436.05L1673.96 437.73L1674.22 439.36L1674.48 440.94L1674.74 442.45L1675 443.91L1675.26 445.31L1675.52 446.65L1675.78 447.94L1676.05 449.16L1676.31 450.32L1676.57 451.43L1676.83 452.47L1677.09 453.45L1677.35 454.37L1677.61 455.22L1677.87 456.02L1678.13 456.75L1678.39 457.41L1678.65 458.02L1678.92 458.55L1679.18 459.03L1679.44 459.44L1679.7 459.78L1679.96 460.07L1680.22 460.28L1680.48 460.43L1680.74 460.52L1681 460.54L1681.26 460.49L1681.52 460.39L1681.79 460.21L1682.05 459.97L1682.31 459.67L1682.57 459.3L1682.83 458.87L1683.09 458.37L1683.35 457.81L1683.61 457.18L1683.87 456.49L1684.13 455.74L1684.39 454.92L1684.66 454.04L1684.92 453.1L1685.18 452.1L1685.44 451.04L1685.7 449.91L1685.96 448.72L1686.22 447.48L1686.48 446.17L1686.74 444.81L1687 443.39L1687.26 441.91L1687.53 440.37L1687.79 438.78L1688.05 437.13L1688.31 435.43L1688.57 433.67L1688.83 431.86L1689.09 430L1689.35 428.09L1689.61 426.12L1689.87 424.11L1690.13 422.04L1690.4 419.93L1690.66 417.77L1690.92 415.56L1691.18 413.31L1691.44 411.02L1691.7 408.68L1691.96 406.3L1692.22 403.87L1692.48 401.41L1692.74 398.91L1693 396.37L1693.27 393.79L1693.53 391.18L1693.79 388.53L1694.05 385.85L1694.31 383.13L1694.57 380.39L1694.83 377.61L1695.09 374.81L1695.35 371.98L1695.61 369.12L1695.87 366.24L1696.13 363.33L1696.4 360.4L1696.66 357.45L1696.92 354.48L1697.18 351.5L1697.44 348.49L1697.7 345.47L1697.96 342.43L1698.22 339.38L1698.48 336.32L1698.74 333.25L1699 330.17L1699.27 327.08L1699.53 323.99L1699.79 320.89L1700.05 317.78L1700.31 314.67L1700.57 311.57L1700.83 308.46L1701.09 305.35L1701.35 302.25L1701.61 299.15L1701.87 296.06L1702.14 292.97L1702.4 289.89L1702.66 286.82L1702.92 283.77L1703.18 280.72L1703.44 277.69L1703.7 274.67L1703.96 271.68L1704.22 268.69L1704.48 265.73L1704.74 262.79L1705.01 259.87L1705.27 256.97L1705.53 254.1L1705.79 251.25L1706.05 248.43L1706.31 245.63L1706.57 242.87L1706.83 240.14L1707.09 237.43L1707.35 234.76L1707.61 232.13L1707.88 229.53L1708.14 226.96L1708.4 224.44L1708.66 221.95L1708.92 219.5L1709.18 217.09L1709.44 214.72L1709.7 212.4L1709.96 210.12L1710.22 207.88L1710.48 205.69L1710.75 203.55L1711.01 201.46L1711.27 199.41L1711.53 197.41L1711.79 195.46L1712.05 193.57L1712.31 191.72L1712.57 189.93L1712.83 188.19L1713.09 186.51L1713.35 184.88L1713.62 183.31L1713.88 181.79L1714.14 180.33L1714.4 178.93L1714.66 177.59L1714.92 176.31L1715.18 175.08L1715.44 173.92L1715.7 172.81L1715.96 171.77L1716.22 170.79L1716.49 169.87L1716.75 169.02L1717.01 168.22L1717.27 167.49L1717.53 166.82L1717.79 166.22L1718.05 165.68L1718.31 165.21L1718.57 164.79L1718.83 164.45L1719.09 164.17L1719.36 163.95L1719.62 163.8L1719.88 163.71L1720.14 163.69L1720.4 163.73L1720.66 163.84L1720.92 164.02L1721.18 164.25L1721.44 164.56L1721.7 164.92L1721.96 165.36L1722.22 165.85L1722.49 166.41L1722.75 167.04L1723.01 167.73L1723.27 168.48L1723.53 169.29L1723.79 170.17L1724.05 171.11L1724.31 172.11L1724.57 173.18L1724.83 174.3L1725.09 175.48L1725.36 176.73L1725.62 178.03L1725.88 179.39L1726.14 180.81L1726.4 182.29L1726.66 183.83L1726.92 185.42L1727.18 187.06L1727.44 188.76L1727.7 190.52L1727.96 192.33L1728.23 194.19L1728.49 196.1L1728.75 198.07L1729.01 200.08L1729.27 202.14L1729.53 204.25L1729.79 206.41L1730.05 208.62L1730.31 210.87L1730.57 213.16L1730.83 215.5L1731.1 217.88L1731.36 220.3L1731.62 222.76L1731.88 225.26L1732.14 227.8L1732.4 230.38L1732.66 232.99L1732.92 235.64L1733.18 238.32L1733.44 241.03L1733.7 243.77L1733.97 246.54L1734.23 249.35L1734.49 252.17L1734.75 255.03L1735.01 257.91L1735.27 260.82L1735.53 263.74L1735.79 266.69L1736.05 269.66L1736.31 272.64L1736.57 275.65L1736.84 278.67L1737.1 281.7L1737.36 284.75L1737.62 287.81L1737.88 290.88L1738.14 293.96L1738.4 297.05L1738.66 300.14L1738.92 303.24L1739.18 306.34L1739.44 309.45L1739.71 312.55L1739.97 315.66L1740.23 318.77L1740.49 321.87L1740.75 324.97L1741.01 328.06L1741.27 331.14L1741.53 334.22L1741.79 337.29L1742.05 340.34L1742.31 343.38L1742.58 346.41L1742.84 349.43L1743.1 352.43L1743.36 355.41L1743.62 358.37L1743.88 361.31L1744.14 364.23L1744.4 367.12L1744.66 369.99L1744.92 372.84L1745.18 375.66L1745.45 378.45L1745.71 381.22L1745.97 383.95L1746.23 386.65L1746.49 389.32L1746.75 391.95L1747.01 394.55L1747.27 397.12L1747.53 399.64L1747.79 402.13L1748.05 404.58L1748.32 406.98L1748.58 409.35L1748.84 411.67L1749.1 413.95L1749.36 416.19L1749.62 418.37L1749.88 420.52L1750.14 422.61L1750.4 424.66L1750.66 426.65L1750.92 428.6L1751.18 430.49L1751.45 432.34L1751.71 434.13L1751.97 435.87L1752.23 437.55L1752.49 439.18L1752.75 440.75L1753.01 442.26L1753.27 443.72L1753.53 445.12L1753.79 446.46L1754.05 447.75L1754.32 448.97L1754.58 450.13L1754.84 451.23L1755.1 452.28L1755.36 453.26L1755.62 454.17L1755.88 455.03L1756.14 455.82L1756.4 456.55L1756.66 457.22L1756.92 457.82L1757.19 458.36L1757.45 458.84L1757.71 459.25L1757.97 459.59L1758.23 459.88L1758.49 460.09L1758.75 460.24L1759.01 460.33L1759.27 460.35L1759.53 460.31L1759.79 460.2L1760.06 460.02L1760.32 459.79L1760.58 459.48L1760.84 459.11L1761.1 458.68L1761.36 458.18L1761.62 457.62L1761.88 457L1762.14 456.31L1762.4 455.56L1762.66 454.74L1762.93 453.86L1763.19 452.92L1763.45 451.92L1763.71 450.86L1763.97 449.74L1764.23 448.55L1764.49 447.31L1764.75 446L1765.01 444.64L1765.27 443.22L1765.53 441.74L1765.8 440.21L1766.06 438.62L1766.32 436.97L1766.58 435.27L1766.84 433.52L1767.1 431.71L1767.36 429.85L1767.62 427.93L1767.88 425.97L1768.14 423.96L1768.4 421.89L1768.67 419.78L1768.93 417.62L1769.19 415.42L1769.45 413.17L1769.71 410.87L1769.97 408.54L1770.23 406.16L1770.49 403.74L1770.75 401.27L1771.01 398.77L1771.27 396.24L1771.54 393.66L1771.8 391.05L1772.06 388.4L1772.32 385.72L1772.58 383.01L1772.84 380.27L1773.1 377.49L1773.36 374.69L1773.62 371.86L1773.88 369.01L1774.14 366.13L1774.41 363.22L1774.67 360.3L1774.93 357.35L1775.19 354.38L1775.45 351.4L1775.71 348.39L1775.97 345.37L1776.23 342.34L1776.49 339.29L1776.75 336.23L1777.01 333.16L1777.27 330.08L1777.54 327L1777.8 323.9L1778.06 320.8L1778.32 317.7L1778.58 314.59L1778.84 311.49L1779.1 308.38L1779.36 305.28L1779.62 302.18L1779.88 299.08L1780.14 295.99L1780.41 292.9L1780.67 289.83L1780.93 286.76L1781.19 283.7L1781.45 280.66L1781.71 277.63L1781.97 274.62L1782.23 271.62L1782.49 268.64L1782.75 265.68L1783.01 262.74L1783.28 259.82L1783.54 256.92L1783.8 254.05L1784.06 251.21L1784.32 248.39L1784.58 245.59L1784.84 242.83L1785.1 240.1L1785.36 237.4L1785.62 234.73L1785.88 232.1L1786.15 229.5L1786.41 226.93L1786.67 224.41L1786.93 221.92L1787.19 219.47L1787.45 217.06" stroke="#D32F2F" stroke-width="6.15"/>
<path d="M1396.1 163.69H1787.45" stroke="#FFA000" stroke-width="7.2" stroke-dasharray="12.355 12.355"/>
</g>
<text x="1383.07" y="151.17" text-anchor="end">2</text>
<text x="1382.39" y="324.95" text-anchor="end">0</text>
<text transform="translate(1329.33 498.68) scale(1.3 0.85)" style="stroke:none">−</text><text x="1383.07" y="497.53" text-anchor="end">2</text>
<text x="1800.65" y="194.62">50</text>
<text x="1801.16" y="324.95">0</text>
<text transform="translate(1802.63 455.24) scale(1.3 0.85)" style="stroke:none">−</text><text x="1832.65" y="454.08">50</text>
<text x="1396.1" y="549.7" text-anchor="middle">0</text>
<text x="1552.64" y="549.7" text-anchor="middle">2</text>
<text x="1709.18" y="549.7" text-anchor="middle">4</text>
<text x="1511.49" y="606.2" textLength="160.27" lengthAdjust="spacing">Time <tspan font-size="39" dy="-1">(</tspan><tspan dy="1">µ</tspan>s<tspan font-size="39" dy="-1">)</tspan></text>
<text transform="translate(1335.1 408.82) rotate(-90)" textLength="193.84" lengthAdjust="spacing">Current <tspan font-size="39" dy="-1">(</tspan><tspan dy="1">A</tspan><tspan font-size="39" dy="-1">)</tspan></text>
<text transform="translate(1870.05 407.57) rotate(-90)" textLength="192.39" lengthAdjust="spacing">Voltage <tspan font-size="39" dy="-1">(</tspan><tspan dy="1">V</tspan><tspan font-size="39" dy="-1">)</tspan></text>
<text transform="translate(1276.83 125.24) scale(1 0.93)" font-weight="bold" style="stroke-width:0.15px">(</text>
<text x="1290.82" y="126.65" font-weight="bold" style="stroke-width:0.15px">c</text>
<text transform="translate(1309.46 125.24) scale(1 0.93)" font-weight="bold" style="stroke-width:0.15px">)</text>
<rect x="817.85" y="2.05" width="969.25" height="66.5" fill="none" stroke="#000" stroke-width="2"/>
<path d="M832.2 35.3H902.9" stroke="#D32F2F" stroke-width="5"/>
<text x="912.38" y="46.3" textLength="126.87" lengthAdjust="spacing">Current</text>
<path d="M1078.9 35.3H1148.8" stroke="#03A9F4" stroke-width="5"/>
<text x="1159.53" y="46.3" textLength="125.83" lengthAdjust="spacing">Voltage</text>
<path d="M1324.1 35.3H1394.8" stroke="#FFA000" stroke-width="5"/>
<text x="1404.19" y="46.3" textLength="362.57" lengthAdjust="spacing">Frequency Magnitude</text>
</svg></body></html>
